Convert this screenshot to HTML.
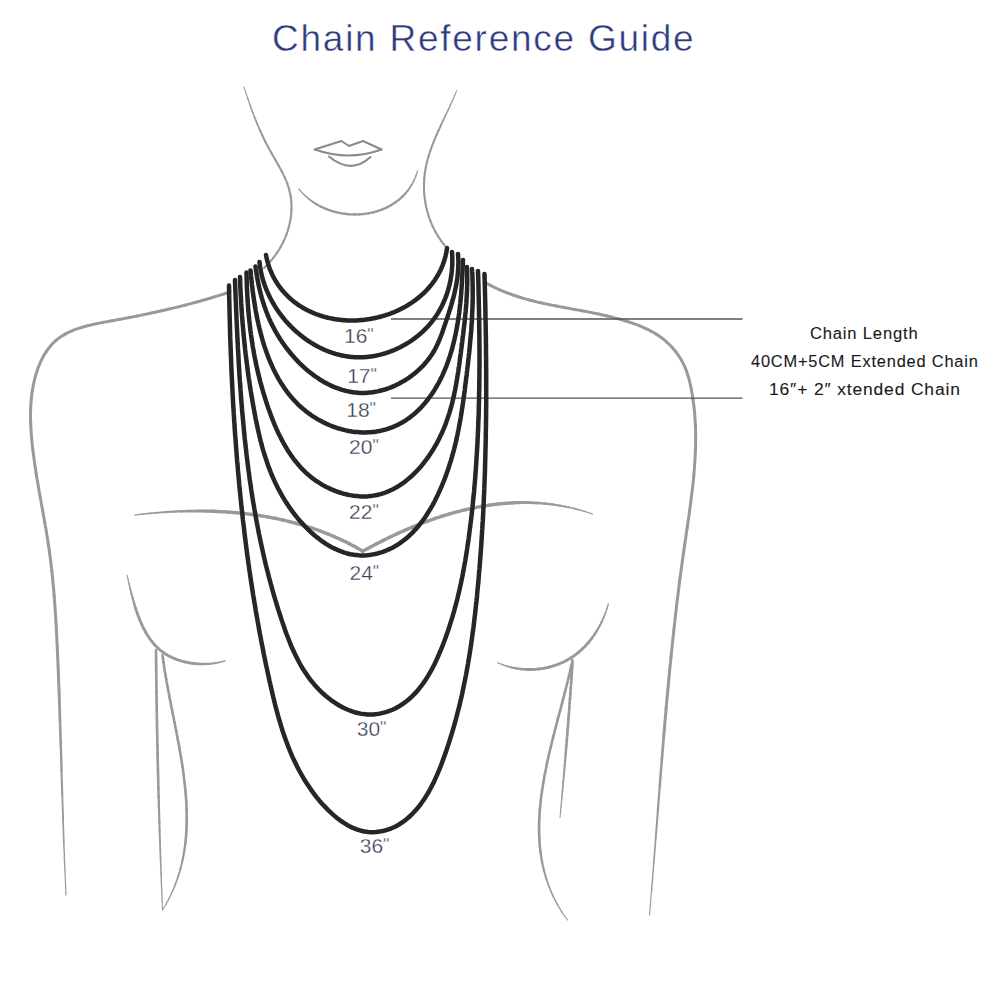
<!DOCTYPE html>
<html><head><meta charset="utf-8">
<style>
html,body{margin:0;padding:0;background:#fff;}
body{width:1000px;height:1000px;position:relative;overflow:hidden;font-family:"Liberation Sans",sans-serif;}
svg{position:absolute;left:0;top:0;}
.title{position:absolute;left:272px;top:19px;font-size:37px;color:#2e3a80;white-space:nowrap;-webkit-text-stroke:0.45px #fff;letter-spacing:1.75px;line-height:40px;}
.lab{position:absolute;font-size:21px;color:#3a3d52;-webkit-text-stroke:0.3px #fff;white-space:nowrap;line-height:20px;}
.q{font-size:18px;vertical-align:top;margin-left:0px;position:relative;top:-1px;-webkit-text-stroke:0.35px #fff;}
.info{position:absolute;font-size:16px;color:#1a1a1a;-webkit-text-stroke:0.1px #1a1a1a;white-space:nowrap;line-height:20px;transform-origin:0 0;letter-spacing:0.8px;}
</style></head><body>
<svg width="1000" height="1000" viewBox="0 0 1000 1000">
<g fill="none" stroke="#999" stroke-width="3" stroke-linecap="round" stroke-linejoin="round">
<path stroke-width="1.10" d="M244.0 87.0 L244.3 87.8 L244.5 88.6 L244.8 89.4 L245.0 90.2 L245.3 91.0 L245.6 91.8 L245.8 92.6"/>
<path stroke-width="1.21" d="M245.8 92.6 L246.1 93.4 L246.3 94.2 L246.6 95.0 L246.9 95.8 L247.1 96.6 L247.4 97.4 L247.7 98.2 L247.9 99.0"/>
<path stroke-width="1.33" d="M247.9 99.0 L248.2 99.8 L248.5 100.6 L248.7 101.3 L249.0 102.1 L249.3 102.9 L249.5 103.7 L249.8 104.5 L250.1 105.3"/>
<path stroke-width="1.45" d="M250.1 105.3 L250.4 106.0 L250.7 106.8 L250.9 107.6 L251.2 108.4 L251.5 109.1 L251.8 109.9 L252.1 110.7 L252.3 111.5"/>
<path stroke-width="1.56" d="M252.3 111.5 L252.6 112.2 L252.9 113.0 L253.2 113.8 L253.5 114.5 L253.8 115.3 L254.1 116.1 L254.4 116.8 L254.7 117.6"/>
<path stroke-width="1.68" d="M254.7 117.6 L255.0 118.4 L255.3 119.1 L255.6 119.9 L255.9 120.7 L256.2 121.4 L256.5 122.2 L256.8 122.9 L257.1 123.7"/>
<path stroke-width="1.80" d="M257.1 123.7 L257.5 124.5 L257.8 125.2 L258.1 126.0 L258.4 126.7 L258.7 127.5 L259.1 128.2 L259.4 129.0 L259.7 129.7"/>
<path stroke-width="1.91" d="M259.7 129.7 L260.1 130.5 L260.4 131.2 L260.7 132.0 L261.1 132.7 L261.4 133.5 L261.8 134.2 L262.1 135.0 L262.5 135.7"/>
<path stroke-width="2.03" d="M262.5 135.7 L262.8 136.5 L263.2 137.2 L263.5 138.0 L263.9 138.7 L264.3 139.5 L264.6 140.2 L265.0 141.0 L265.4 141.7"/>
<path stroke-width="2.10" d="M265.4 141.7 L265.7 142.4 L266.1 143.2 L266.5 143.9 L266.9 144.7 L267.3 145.4 L267.7 146.1 L268.0 146.9 L268.4 147.6"/>
<path stroke-width="2.10" d="M268.4 147.6 L268.8 148.4 L269.2 149.1 L269.7 149.8 L270.1 150.6 L270.5 151.3 L270.9 152.1 L271.3 152.8 L271.7 153.5"/>
<path stroke-width="2.10" d="M271.7 153.5 L272.1 154.3 L272.6 155.0 L273.0 155.8 L273.4 156.5 L273.8 157.2 L274.3 158.0 L274.7 158.7 L275.1 159.5"/>
<path stroke-width="2.10" d="M275.1 159.5 L275.5 160.2 L276.0 160.9 L276.4 161.7 L276.8 162.4 L277.2 163.2 L277.7 163.9 L278.1 164.6 L278.5 165.4"/>
<path stroke-width="2.10" d="M278.5 165.4 L278.9 166.1 L279.3 166.9 L279.7 167.6 L280.1 168.4 L280.6 169.1 L281.0 169.9 L281.4 170.6 L281.7 171.3"/>
<path stroke-width="2.10" d="M281.7 171.3 L282.1 172.1 L282.5 172.9 L282.9 173.6 L283.3 174.4 L283.6 175.1 L284.0 175.9 L284.4 176.6 L284.7 177.4"/>
<path stroke-width="2.10" d="M284.7 177.4 L285.0 178.2 L285.4 178.9 L285.7 179.7 L286.0 180.4 L286.4 181.2 L286.7 182.0 L287.0 182.7 L287.3 183.5"/>
<path stroke-width="2.10" d="M287.3 183.5 L287.5 184.3 L287.8 185.1 L288.1 185.9 L288.3 186.6 L288.6 187.4 L288.8 188.2 L289.0 189.0 L289.2 189.8"/>
<path stroke-width="2.10" d="M289.2 189.8 L289.5 190.6 L289.6 191.4 L289.8 192.1 L290.0 192.9 L290.2 193.7 L290.3 194.5 L290.5 195.3 L290.6 196.1"/>
<path stroke-width="2.10" d="M290.6 196.1 L290.7 196.9 L290.8 197.8 L291.0 198.6 L291.0 199.4 L291.1 200.2 L291.2 201.0 L291.3 201.8 L291.3 202.6"/>
<path stroke-width="2.10" d="M291.3 202.6 L291.4 203.4 L291.4 204.2 L291.4 205.0 L291.5 205.9 L291.5 206.7 L291.5 207.5 L291.5 208.3 L291.5 209.1"/>
<path stroke-width="2.10" d="M291.5 209.1 L291.4 209.9 L291.4 210.7 L291.3 211.6 L291.3 212.4 L291.2 213.2 L291.2 214.0 L291.1 214.8 L291.0 215.6"/>
<path stroke-width="2.10" d="M291.0 215.6 L290.9 216.4 L290.8 217.2 L290.7 218.1 L290.5 218.9 L290.4 219.7 L290.3 220.5 L290.1 221.3 L290.0 222.1"/>
<path stroke-width="2.10" d="M290.0 222.1 L289.8 222.9 L289.6 223.7 L289.4 224.5 L289.2 225.3 L289.0 226.1 L288.8 226.9 L288.6 227.7 L288.4 228.5"/>
<path stroke-width="2.10" d="M288.4 228.5 L288.2 229.3 L287.9 230.1 L287.7 230.9 L287.4 231.7 L287.1 232.5 L286.9 233.3 L286.6 234.0 L286.3 234.8"/>
<path stroke-width="2.10" d="M286.3 234.8 L286.0 235.6 L285.7 236.4 L285.4 237.1 L285.1 237.9 L284.7 238.7 L284.4 239.4 L284.1 240.2 L283.7 241.0"/>
<path stroke-width="2.10" d="M283.7 241.0 L283.3 241.7 L283.0 242.5 L282.6 243.2 L282.2 244.0 L281.8 244.7 L281.4 245.4 L281.0 246.2 L280.6 246.9"/>
<path stroke-width="2.10" d="M280.6 246.9 L280.2 247.6 L279.8 248.4 L279.4 249.1 L278.9 249.8 L278.5 250.5 L278.0 251.2 L277.6 251.9 L277.1 252.6"/>
<path stroke-width="2.10" d="M277.1 252.6 L276.6 253.3 L276.1 254.0 L275.7 254.7 L275.2 255.4 L274.7 256.1 L274.2 256.7 L273.6 257.4 L273.1 258.1"/>
<path stroke-width="2.10" d="M273.1 258.1 L272.6 258.7 L272.1 259.4 L271.5 260.0 L271.0 260.7 L270.4 261.3 L269.9 262.0 L269.3 262.6 L268.8 263.2"/>
<path stroke-width="2.10" d="M268.8 263.2 L268.2 263.8 L267.6 264.4 L267.0 265.0 L266.4 265.6 L265.8 266.2 L265.2 266.8 L264.6 267.4 L264.0 268.0"/>
<path stroke-width="1.10" d="M456.5 90.8 L456.3 91.4 L456.0 92.1 L455.8 92.7 L455.5 93.3 L455.3 93.9 L455.0 94.5 L454.7 95.2"/>
<path stroke-width="1.21" d="M454.7 95.2 L454.5 95.8 L454.2 96.4 L454.0 97.0 L453.7 97.7 L453.4 98.3 L453.2 98.9 L452.9 99.5 L452.6 100.2"/>
<path stroke-width="1.33" d="M452.6 100.2 L452.3 100.8 L452.0 101.4 L451.8 102.0 L451.5 102.7 L451.2 103.3 L450.9 103.9 L450.6 104.5 L450.3 105.2"/>
<path stroke-width="1.45" d="M450.3 105.2 L450.1 105.8 L449.8 106.4 L449.5 107.1 L449.2 107.7 L448.9 108.3 L448.6 108.9 L448.3 109.6 L448.0 110.2"/>
<path stroke-width="1.56" d="M448.0 110.2 L447.7 110.8 L447.4 111.5 L447.1 112.1 L446.8 112.7 L446.5 113.3 L446.2 114.0 L445.9 114.6 L445.6 115.2"/>
<path stroke-width="1.68" d="M445.6 115.2 L445.3 115.9 L445.0 116.5 L444.7 117.1 L444.4 117.8 L444.1 118.4 L443.8 119.0 L443.5 119.7 L443.2 120.3"/>
<path stroke-width="1.80" d="M443.2 120.3 L442.9 120.9 L442.6 121.6 L442.3 122.2 L442.0 122.8 L441.7 123.5 L441.4 124.1 L441.1 124.7 L440.8 125.4"/>
<path stroke-width="1.91" d="M440.8 125.4 L440.6 126.0 L440.3 126.7 L440.0 127.3 L439.7 127.9 L439.4 128.6 L439.1 129.2 L438.8 129.9 L438.5 130.5"/>
<path stroke-width="2.03" d="M438.5 130.5 L438.2 131.1 L437.9 131.8 L437.6 132.4 L437.4 133.1 L437.1 133.7 L436.8 134.3 L436.5 135.0 L436.2 135.6"/>
<path stroke-width="2.10" d="M436.2 135.6 L436.0 136.3 L435.7 136.9 L435.4 137.6 L435.1 138.2 L434.9 138.9 L434.6 139.5 L434.3 140.2 L434.1 140.8"/>
<path stroke-width="2.10" d="M434.1 140.8 L433.8 141.5 L433.5 142.1 L433.3 142.8 L433.0 143.4 L432.8 144.1 L432.5 144.7 L432.3 145.4 L432.0 146.0"/>
<path stroke-width="2.10" d="M432.0 146.0 L431.8 146.7 L431.5 147.3 L431.3 148.0 L431.1 148.6 L430.8 149.3 L430.6 149.9 L430.4 150.6 L430.2 151.3"/>
<path stroke-width="2.10" d="M430.2 151.3 L429.9 151.9 L429.7 152.6 L429.5 153.2 L429.3 153.9 L429.1 154.5 L428.9 155.2 L428.7 155.9 L428.5 156.5"/>
<path stroke-width="2.10" d="M428.5 156.5 L428.3 157.2 L428.1 157.9 L427.9 158.5 L427.7 159.2 L427.5 159.9 L427.4 160.5 L427.2 161.2 L427.0 161.9"/>
<path stroke-width="2.10" d="M427.0 161.9 L426.9 162.5 L426.7 163.2 L426.5 163.9 L426.4 164.5 L426.2 165.2 L426.1 165.9 L426.0 166.6 L425.8 167.2"/>
<path stroke-width="2.10" d="M425.8 167.2 L425.7 167.9 L425.6 168.6 L425.5 169.3 L425.3 169.9 L425.2 170.6 L425.1 171.3 L425.0 172.0 L424.9 172.6"/>
<path stroke-width="2.10" d="M424.9 172.6 L424.8 173.3 L424.7 174.0 L424.7 174.7 L424.6 175.4 L424.5 176.1 L424.4 176.7 L424.4 177.4 L424.3 178.1"/>
<path stroke-width="2.10" d="M424.3 178.1 L424.3 178.8 L424.2 179.5 L424.2 180.2 L424.1 180.8 L424.1 181.5 L424.1 182.2 L424.0 182.9 L424.0 183.6"/>
<path stroke-width="2.10" d="M424.0 183.6 L424.0 184.3 L424.0 185.0 L424.0 185.6 L424.0 186.3 L424.0 187.0 L424.0 187.7 L424.0 188.4 L424.0 189.1"/>
<path stroke-width="2.10" d="M424.0 189.1 L424.0 189.8 L424.1 190.5 L424.1 191.1 L424.1 191.8 L424.2 192.5 L424.2 193.2 L424.3 193.9 L424.3 194.6"/>
<path stroke-width="2.10" d="M424.3 194.6 L424.4 195.3 L424.5 195.9 L424.5 196.6 L424.6 197.3 L424.7 198.0 L424.8 198.7 L424.9 199.4 L425.0 200.0"/>
<path stroke-width="2.10" d="M425.0 200.0 L425.1 200.7 L425.2 201.4 L425.3 202.1 L425.4 202.8 L425.5 203.4 L425.6 204.1 L425.8 204.8 L425.9 205.5"/>
<path stroke-width="2.10" d="M425.9 205.5 L426.0 206.1 L426.2 206.8 L426.3 207.5 L426.5 208.2 L426.6 208.8 L426.8 209.5 L427.0 210.2 L427.1 210.8"/>
<path stroke-width="2.10" d="M427.1 210.8 L427.3 211.5 L427.5 212.2 L427.7 212.8 L427.9 213.5 L428.1 214.2 L428.3 214.8 L428.5 215.5 L428.7 216.1"/>
<path stroke-width="2.10" d="M428.7 216.1 L428.9 216.8 L429.1 217.5 L429.4 218.1 L429.6 218.8 L429.8 219.4 L430.1 220.1 L430.3 220.7 L430.6 221.4"/>
<path stroke-width="2.10" d="M430.6 221.4 L430.8 222.0 L431.1 222.7 L431.4 223.3 L431.6 223.9 L431.9 224.6 L432.2 225.2 L432.5 225.8 L432.8 226.5"/>
<path stroke-width="2.10" d="M432.8 226.5 L433.1 227.1 L433.4 227.7 L433.7 228.4 L434.0 229.0 L434.3 229.6 L434.6 230.2 L435.0 230.9 L435.3 231.5"/>
<path stroke-width="2.10" d="M435.3 231.5 L435.6 232.1 L436.0 232.7 L436.3 233.3 L436.7 233.9 L437.0 234.5 L437.4 235.1 L437.8 235.7 L438.1 236.3"/>
<path stroke-width="2.10" d="M438.1 236.3 L438.5 236.9 L438.9 237.5 L439.3 238.1 L439.7 238.7 L440.1 239.3 L440.5 239.9 L440.9 240.5 L441.3 241.1"/>
<path stroke-width="2.10" d="M441.3 241.1 L441.7 241.6 L442.2 242.2 L442.6 242.8 L443.0 243.4 L443.5 243.9 L443.9 244.5 L444.4 245.0 L444.8 245.6"/>
<path stroke-width="1.23" d="M299.0 189.0 L299.4 189.5 L299.8 190.0 L300.2 190.4 L300.6 190.9 L301.0 191.4 L301.4 191.8 L301.8 192.3"/>
<path stroke-width="1.41" d="M301.8 192.3 L302.2 192.7 L302.6 193.2 L303.0 193.6 L303.4 194.1 L303.9 194.5 L304.3 194.9 L304.7 195.3 L305.2 195.8"/>
<path stroke-width="1.61" d="M305.2 195.8 L305.6 196.2 L306.1 196.6 L306.5 197.0 L307.0 197.4 L307.4 197.8 L307.9 198.2 L308.4 198.6 L308.8 198.9"/>
<path stroke-width="1.80" d="M308.8 198.9 L309.3 199.3 L309.8 199.7 L310.3 200.1 L310.8 200.4 L311.2 200.8 L311.7 201.1 L312.2 201.5 L312.7 201.8"/>
<path stroke-width="1.99" d="M312.7 201.8 L313.2 202.2 L313.7 202.5 L314.2 202.8 L314.7 203.2 L315.3 203.5 L315.8 203.8 L316.3 204.1 L316.8 204.4"/>
<path stroke-width="2.18" d="M316.8 204.4 L317.3 204.7 L317.9 205.0 L318.4 205.3 L318.9 205.6 L319.5 205.9 L320.0 206.2 L320.5 206.4 L321.1 206.7"/>
<path stroke-width="2.30" d="M321.1 206.7 L321.6 207.0 L322.2 207.2 L322.7 207.5 L323.3 207.8 L323.8 208.0 L324.4 208.2 L325.0 208.5 L325.5 208.7"/>
<path stroke-width="2.30" d="M325.5 208.7 L326.1 208.9 L326.6 209.2 L327.2 209.4 L327.8 209.6 L328.4 209.8 L328.9 210.0 L329.5 210.2 L330.1 210.4"/>
<path stroke-width="2.30" d="M330.1 210.4 L330.7 210.6 L331.2 210.8 L331.8 211.0 L332.4 211.2 L333.0 211.3 L333.6 211.5 L334.2 211.7 L334.7 211.8"/>
<path stroke-width="2.30" d="M334.7 211.8 L335.3 212.0 L335.9 212.1 L336.5 212.3 L337.1 212.4 L337.7 212.6 L338.3 212.7 L338.9 212.8 L339.5 212.9"/>
<path stroke-width="2.30" d="M339.5 212.9 L340.1 213.1 L340.7 213.2 L341.3 213.3 L341.9 213.4 L342.5 213.5 L343.1 213.6 L343.7 213.7 L344.3 213.7"/>
<path stroke-width="2.30" d="M344.3 213.7 L344.9 213.8 L345.5 213.9 L346.1 214.0 L346.8 214.0 L347.4 214.1 L348.0 214.2 L348.6 214.2 L349.2 214.3"/>
<path stroke-width="2.30" d="M349.2 214.3 L349.8 214.3 L350.4 214.3 L351.0 214.4 L351.6 214.4 L352.2 214.4 L352.8 214.4 L353.5 214.5 L354.1 214.5"/>
<path stroke-width="2.30" d="M354.1 214.5 L354.7 214.5 L355.3 214.5 L355.9 214.5 L356.5 214.5 L357.1 214.4 L357.7 214.4 L358.3 214.4 L358.9 214.4"/>
<path stroke-width="2.30" d="M358.9 214.4 L359.6 214.3 L360.2 214.3 L360.8 214.3 L361.4 214.2 L362.0 214.2 L362.6 214.1 L363.2 214.0 L363.8 214.0"/>
<path stroke-width="2.30" d="M363.8 214.0 L364.4 213.9 L365.0 213.8 L365.6 213.7 L366.2 213.7 L366.8 213.6 L367.4 213.5 L368.0 213.4 L368.6 213.3"/>
<path stroke-width="2.30" d="M368.6 213.3 L369.2 213.2 L369.8 213.0 L370.4 212.9 L371.0 212.8 L371.6 212.7 L372.1 212.5 L372.7 212.4 L373.3 212.3"/>
<path stroke-width="2.30" d="M373.3 212.3 L373.9 212.1 L374.5 212.0 L375.1 211.8 L375.6 211.6 L376.2 211.5 L376.8 211.3 L377.4 211.1 L377.9 210.9"/>
<path stroke-width="2.30" d="M377.9 210.9 L378.5 210.8 L379.1 210.6 L379.6 210.4 L380.2 210.2 L380.8 210.0 L381.3 209.8 L381.9 209.5 L382.5 209.3"/>
<path stroke-width="2.30" d="M382.5 209.3 L383.0 209.1 L383.6 208.9 L384.1 208.6 L384.7 208.4 L385.2 208.2 L385.7 207.9 L386.3 207.7 L386.8 207.4"/>
<path stroke-width="2.30" d="M386.8 207.4 L387.3 207.1 L387.9 206.9 L388.4 206.6 L388.9 206.3 L389.5 206.0 L390.0 205.7 L390.5 205.5 L391.0 205.2"/>
<path stroke-width="2.30" d="M391.0 205.2 L391.5 204.9 L392.0 204.6 L392.5 204.2 L393.0 203.9 L393.5 203.6 L394.0 203.3 L394.5 202.9 L395.0 202.6"/>
<path stroke-width="2.30" d="M395.0 202.6 L395.5 202.3 L396.0 201.9 L396.5 201.6 L396.9 201.2 L397.4 200.9 L397.9 200.5 L398.4 200.1 L398.8 199.8"/>
<path stroke-width="2.30" d="M398.8 199.8 L399.3 199.4 L399.7 199.0 L400.2 198.6 L400.6 198.2 L401.1 197.8 L401.5 197.4 L401.9 197.0 L402.4 196.6"/>
<path stroke-width="2.21" d="M402.4 196.6 L402.8 196.2 L403.2 195.7 L403.6 195.3 L404.1 194.9 L404.5 194.4 L404.9 194.0 L405.3 193.6 L405.7 193.1"/>
<path stroke-width="2.02" d="M405.7 193.1 L406.1 192.7 L406.5 192.2 L406.8 191.7 L407.2 191.2 L407.6 190.8 L408.0 190.3 L408.3 189.8 L408.7 189.3"/>
<path stroke-width="1.82" d="M408.7 189.3 L409.1 188.8 L409.4 188.3 L409.8 187.8 L410.1 187.3 L410.4 186.8 L410.8 186.3 L411.1 185.7 L411.4 185.2"/>
<path stroke-width="1.63" d="M411.4 185.2 L411.7 184.7 L412.0 184.1 L412.3 183.6 L412.6 183.0 L412.9 182.5 L413.2 181.9 L413.5 181.4 L413.8 180.8"/>
<path stroke-width="1.44" d="M413.8 180.8 L414.1 180.2 L414.3 179.6 L414.6 179.0 L414.9 178.5 L415.1 177.9 L415.4 177.3 L415.6 176.7 L415.8 176.0"/>
<path stroke-width="1.25" d="M415.8 176.0 L416.1 175.4 L416.3 174.8 L416.5 174.2 L416.7 173.6 L416.9 172.9 L417.1 172.3 L417.3 171.6 L417.5 171.0"/>
<path stroke-width="3.00" d="M230.0 292.0 L226.9 293.0 L223.9 294.0 L220.8 294.9 L217.8 295.9 L214.7 296.8 L211.7 297.7 L208.7 298.6"/>
<path stroke-width="3.00" d="M208.7 298.6 L205.7 299.5 L202.7 300.3 L199.8 301.2 L196.8 302.0 L193.8 302.8 L190.8 303.6 L187.9 304.4 L184.9 305.2"/>
<path stroke-width="3.00" d="M184.9 305.2 L182.0 305.9 L179.0 306.7 L176.0 307.4 L173.1 308.1 L170.1 308.8 L167.1 309.5 L164.2 310.2 L161.2 310.9"/>
<path stroke-width="3.00" d="M161.2 310.9 L158.2 311.5 L155.2 312.2 L152.2 312.8 L149.2 313.5 L146.2 314.1 L143.2 314.7 L140.2 315.4 L137.1 316.0"/>
<path stroke-width="3.00" d="M137.1 316.0 L134.1 316.6 L131.0 317.2 L127.9 317.8 L124.8 318.4 L121.7 319.0 L118.6 319.5 L115.4 320.1 L112.3 320.7"/>
<path stroke-width="3.00" d="M112.3 320.7 L109.1 321.3 L105.9 321.9 L102.7 322.5 L99.5 323.1 L96.3 323.8 L93.1 324.4 L90.0 325.2 L86.9 325.9"/>
<path stroke-width="3.00" d="M86.9 325.9 L83.8 326.8 L80.7 327.7 L77.8 328.7 L74.8 329.7 L72.0 330.9 L69.2 332.1 L66.5 333.4 L63.8 334.9"/>
<path stroke-width="3.00" d="M63.8 334.9 L61.3 336.5 L58.9 338.1 L56.5 340.0 L54.3 341.9 L52.2 344.0 L50.3 346.2 L48.4 348.6 L46.6 351.1"/>
<path stroke-width="3.00" d="M46.6 351.1 L45.0 353.6 L43.4 356.3 L42.0 359.0 L40.6 361.8 L39.4 364.7 L38.2 367.6 L37.2 370.6 L36.2 373.6"/>
<path stroke-width="3.00" d="M36.2 373.6 L35.3 376.7 L34.5 379.8 L33.8 382.9 L33.1 386.0 L32.6 389.1 L32.1 392.2 L31.7 395.3 L31.3 398.4"/>
<path stroke-width="3.00" d="M31.3 398.4 L31.1 401.5 L30.8 404.7 L30.7 407.8 L30.6 410.9 L30.5 414.1 L30.5 417.2 L30.6 420.3 L30.7 423.5"/>
<path stroke-width="3.00" d="M30.7 423.5 L30.8 426.6 L31.0 429.7 L31.2 432.9 L31.4 436.0 L31.7 439.1 L32.0 442.2 L32.3 445.4 L32.7 448.5"/>
<path stroke-width="3.00" d="M32.7 448.5 L33.1 451.6 L33.5 454.7 L33.9 457.8 L34.3 460.9 L34.7 463.9 L35.2 467.0 L35.7 470.1 L36.1 473.2"/>
<path stroke-width="3.00" d="M36.1 473.2 L36.6 476.3 L37.1 479.3 L37.7 482.4 L38.2 485.5 L38.7 488.5 L39.2 491.6 L39.8 494.6 L40.3 497.7"/>
<path stroke-width="3.00" d="M40.3 497.7 L40.9 500.8 L41.4 503.8 L42.0 506.9 L42.5 509.9 L43.1 513.0 L43.6 516.0 L44.2 519.1 L44.7 522.1"/>
<path stroke-width="3.00" d="M44.7 522.1 L45.2 525.2 L45.8 528.3 L46.3 531.3 L46.8 534.4 L47.3 537.4 L47.8 540.5 L48.2 543.6 L48.7 546.6"/>
<path stroke-width="3.00" d="M48.7 546.6 L49.2 549.7 L49.6 552.8 L50.0 555.9 L50.4 558.9 L50.8 562.0 L51.2 565.1 L51.5 568.2 L51.9 571.3"/>
<path stroke-width="3.00" d="M51.9 571.3 L52.2 574.4 L52.5 577.5 L52.8 580.6 L53.1 583.7 L53.4 586.8 L53.7 589.9 L53.9 593.0 L54.2 596.1"/>
<path stroke-width="3.00" d="M54.2 596.1 L54.4 599.2 L54.7 602.3 L54.9 605.4 L55.1 608.6 L55.3 611.7 L55.5 614.8 L55.7 617.9 L55.9 621.0"/>
<path stroke-width="3.00" d="M55.9 621.0 L56.1 624.1 L56.2 627.2 L56.4 630.4 L56.6 633.5 L56.7 636.6 L56.9 639.7 L57.0 642.8 L57.2 646.0"/>
<path stroke-width="3.00" d="M57.2 646.0 L57.3 649.1 L57.5 652.2 L57.6 655.3 L57.7 658.4 L57.9 661.5 L58.0 664.7 L58.1 667.8 L58.3 670.9"/>
<path stroke-width="3.00" d="M58.3 670.9 L58.4 674.0 L58.5 677.1 L58.6 680.2 L58.7 683.4 L58.9 686.5 L59.0 689.6 L59.1 692.7 L59.2 695.8"/>
<path stroke-width="2.80" d="M59.2 695.8 L59.3 698.9 L59.4 702.0 L59.5 705.2 L59.6 708.3 L59.7 711.4 L59.8 714.5 L59.9 717.6 L60.0 720.7"/>
<path stroke-width="2.57" d="M60.0 720.7 L60.1 723.8 L60.2 726.9 L60.3 730.0 L60.4 733.2 L60.5 736.3 L60.6 739.4 L60.7 742.5 L60.8 745.6"/>
<path stroke-width="2.33" d="M60.8 745.6 L60.9 748.7 L61.0 751.8 L61.1 754.9 L61.2 758.0 L61.3 761.2 L61.4 764.3 L61.5 767.4 L61.5 770.5"/>
<path stroke-width="2.10" d="M61.5 770.5 L61.6 773.6 L61.7 776.7 L61.8 779.8 L61.9 782.9 L62.0 786.0 L62.1 789.1 L62.2 792.3 L62.3 795.4"/>
<path stroke-width="1.87" d="M62.3 795.4 L62.4 798.5 L62.5 801.6 L62.6 804.7 L62.7 807.8 L62.8 810.9 L62.9 814.0 L63.0 817.1 L63.1 820.3"/>
<path stroke-width="1.63" d="M63.1 820.3 L63.2 823.4 L63.3 826.5 L63.4 829.6 L63.5 832.7 L63.6 835.8 L63.7 838.9 L63.8 842.0 L63.9 845.2"/>
<path stroke-width="1.40" d="M63.9 845.2 L64.0 848.3 L64.2 851.4 L64.3 854.5 L64.4 857.6 L64.5 860.7 L64.6 863.8 L64.8 867.0 L64.9 870.1"/>
<path stroke-width="1.17" d="M64.9 870.1 L65.0 873.2 L65.2 876.3 L65.3 879.4 L65.4 882.5 L65.6 885.6 L65.7 888.8 L65.9 891.9 L66.0 895.0"/>
<path stroke-width="3.00" d="M486.0 283.0 L489.0 284.6 L491.9 286.1 L494.9 287.6 L497.9 289.0 L500.9 290.3 L504.0 291.6 L507.0 292.8"/>
<path stroke-width="3.00" d="M507.0 292.8 L510.0 293.9 L513.0 295.0 L516.1 296.0 L519.1 297.0 L522.2 298.0 L525.3 298.9 L528.4 299.7 L531.4 300.5"/>
<path stroke-width="3.00" d="M531.4 300.5 L534.5 301.3 L537.6 302.1 L540.7 302.8 L543.8 303.5 L547.0 304.1 L550.1 304.8 L553.2 305.4 L556.4 306.0"/>
<path stroke-width="3.00" d="M556.4 306.0 L559.5 306.6 L562.6 307.2 L565.8 307.8 L569.0 308.4 L572.1 309.0 L575.3 309.5 L578.5 310.1 L581.6 310.7"/>
<path stroke-width="3.00" d="M581.6 310.7 L584.8 311.3 L588.0 311.9 L591.2 312.5 L594.4 313.2 L597.6 313.8 L600.8 314.5 L604.0 315.2 L607.2 316.0"/>
<path stroke-width="3.00" d="M607.2 316.0 L610.4 316.7 L613.6 317.6 L616.9 318.4 L620.1 319.3 L623.3 320.2 L626.5 321.2 L629.7 322.2 L632.9 323.3"/>
<path stroke-width="3.00" d="M632.9 323.3 L636.0 324.4 L639.2 325.6 L642.2 326.9 L645.3 328.3 L648.2 329.7 L651.1 331.2 L654.0 332.8 L656.8 334.5"/>
<path stroke-width="3.00" d="M656.8 334.5 L659.5 336.3 L662.1 338.2 L664.6 340.2 L667.0 342.3 L669.4 344.5 L671.6 346.8 L673.7 349.2 L675.7 351.6"/>
<path stroke-width="3.00" d="M675.7 351.6 L677.6 354.2 L679.4 356.8 L681.1 359.5 L682.6 362.3 L684.0 365.1 L685.3 368.1 L686.5 371.1 L687.5 374.1"/>
<path stroke-width="3.00" d="M687.5 374.1 L688.5 377.2 L689.3 380.3 L690.1 383.5 L690.8 386.7 L691.4 389.9 L692.0 393.1 L692.5 396.3 L693.0 399.5"/>
<path stroke-width="3.00" d="M693.0 399.5 L693.5 402.7 L693.9 405.9 L694.2 409.2 L694.5 412.4 L694.8 415.6 L695.0 418.8 L695.2 422.0 L695.4 425.3"/>
<path stroke-width="3.00" d="M695.4 425.3 L695.5 428.5 L695.6 431.7 L695.6 434.9 L695.6 438.1 L695.6 441.3 L695.6 444.6 L695.5 447.8 L695.4 451.0"/>
<path stroke-width="3.00" d="M695.4 451.0 L695.3 454.2 L695.1 457.4 L694.9 460.7 L694.7 463.9 L694.5 467.1 L694.2 470.3 L694.0 473.5 L693.7 476.8"/>
<path stroke-width="3.00" d="M693.7 476.8 L693.4 480.0 L693.0 483.2 L692.7 486.4 L692.3 489.7 L691.9 492.9 L691.5 496.1 L691.1 499.3 L690.7 502.5"/>
<path stroke-width="3.00" d="M690.7 502.5 L690.3 505.8 L689.8 509.0 L689.4 512.2 L689.0 515.4 L688.5 518.6 L688.0 521.9 L687.6 525.1 L687.1 528.3"/>
<path stroke-width="3.00" d="M687.1 528.3 L686.6 531.5 L686.1 534.7 L685.7 538.0 L685.2 541.2 L684.7 544.4 L684.3 547.6 L683.8 550.8 L683.3 554.1"/>
<path stroke-width="3.00" d="M683.3 554.1 L682.9 557.3 L682.4 560.5 L682.0 563.7 L681.5 566.9 L681.1 570.2 L680.7 573.4 L680.3 576.6 L679.8 579.8"/>
<path stroke-width="3.00" d="M679.8 579.8 L679.4 583.0 L679.0 586.3 L678.6 589.5 L678.2 592.7 L677.8 595.9 L677.4 599.1 L677.0 602.3 L676.6 605.6"/>
<path stroke-width="3.00" d="M676.6 605.6 L676.3 608.8 L675.9 612.0 L675.5 615.2 L675.1 618.4 L674.8 621.7 L674.4 624.9 L674.1 628.1 L673.7 631.3"/>
<path stroke-width="3.00" d="M673.7 631.3 L673.4 634.5 L673.0 637.7 L672.7 641.0 L672.3 644.2 L672.0 647.4 L671.7 650.6 L671.3 653.8 L671.0 657.1"/>
<path stroke-width="3.00" d="M671.0 657.1 L670.7 660.3 L670.4 663.5 L670.0 666.7 L669.7 669.9 L669.4 673.1 L669.1 676.4 L668.8 679.6 L668.5 682.8"/>
<path stroke-width="3.00" d="M668.5 682.8 L668.2 686.0 L667.9 689.2 L667.6 692.5 L667.3 695.7 L667.0 698.9 L666.7 702.1 L666.4 705.3 L666.1 708.6"/>
<path stroke-width="3.00" d="M666.1 708.6 L665.9 711.8 L665.6 715.0 L665.3 718.2 L665.0 721.4 L664.7 724.6 L664.5 727.9 L664.2 731.1 L663.9 734.3"/>
<path stroke-width="2.75" d="M663.9 734.3 L663.7 737.5 L663.4 740.7 L663.1 744.0 L662.9 747.2 L662.6 750.4 L662.3 753.6 L662.1 756.9 L661.8 760.1"/>
<path stroke-width="2.49" d="M661.8 760.1 L661.6 763.3 L661.3 766.5 L661.0 769.7 L660.8 773.0 L660.5 776.2 L660.3 779.4 L660.0 782.6 L659.8 785.9"/>
<path stroke-width="2.22" d="M659.8 785.9 L659.5 789.1 L659.3 792.3 L659.0 795.5 L658.8 798.7 L658.5 802.0 L658.3 805.2 L658.0 808.4 L657.8 811.6"/>
<path stroke-width="1.96" d="M657.8 811.6 L657.5 814.9 L657.3 818.1 L657.0 821.3 L656.8 824.5 L656.5 827.8 L656.3 831.0 L656.0 834.2 L655.8 837.5"/>
<path stroke-width="1.70" d="M655.8 837.5 L655.5 840.7 L655.3 843.9 L655.0 847.1 L654.8 850.4 L654.5 853.6 L654.3 856.8 L654.0 860.1 L653.7 863.3"/>
<path stroke-width="1.44" d="M653.7 863.3 L653.5 866.5 L653.2 869.7 L653.0 873.0 L652.7 876.2 L652.5 879.4 L652.2 882.7 L651.9 885.9 L651.7 889.1"/>
<path stroke-width="1.18" d="M651.7 889.1 L651.4 892.4 L651.1 895.6 L650.9 898.8 L650.6 902.1 L650.3 905.3 L650.1 908.5 L649.8 911.8 L649.5 915.0"/>
<path stroke-width="1.28" d="M135.0 515.0 L136.0 514.9 L136.9 514.8 L137.9 514.6 L138.8 514.5 L139.8 514.4 L140.8 514.3 L141.7 514.2"/>
<path stroke-width="1.48" d="M141.7 514.2 L142.7 514.1 L143.7 514.0 L144.6 513.9 L145.6 513.8 L146.6 513.7 L147.5 513.6 L148.5 513.5 L149.5 513.4"/>
<path stroke-width="1.69" d="M149.5 513.4 L150.4 513.3 L151.4 513.2 L152.4 513.1 L153.4 513.0 L154.3 513.0 L155.3 512.9 L156.3 512.8 L157.2 512.7"/>
<path stroke-width="1.90" d="M157.2 512.7 L158.2 512.6 L159.2 512.6 L160.2 512.5 L161.1 512.4 L162.1 512.3 L163.1 512.3 L164.1 512.2 L165.1 512.1"/>
<path stroke-width="2.11" d="M165.1 512.1 L166.0 512.1 L167.0 512.0 L168.0 511.9 L169.0 511.9 L169.9 511.8 L170.9 511.8 L171.9 511.7 L172.9 511.7"/>
<path stroke-width="2.33" d="M172.9 511.7 L173.9 511.6 L174.9 511.6 L175.8 511.5 L176.8 511.5 L177.8 511.4 L178.8 511.4 L179.8 511.4 L180.8 511.3"/>
<path stroke-width="2.54" d="M180.8 511.3 L181.7 511.3 L182.7 511.3 L183.7 511.2 L184.7 511.2 L185.7 511.2 L186.7 511.2 L187.6 511.1 L188.6 511.1"/>
<path stroke-width="2.75" d="M188.6 511.1 L189.6 511.1 L190.6 511.1 L191.6 511.1 L192.6 511.1 L193.6 511.0 L194.6 511.0 L195.5 511.0 L196.5 511.0"/>
<path stroke-width="2.96" d="M196.5 511.0 L197.5 511.0 L198.5 511.0 L199.5 511.0 L200.5 511.0 L201.5 511.0 L202.5 511.1 L203.4 511.1 L204.4 511.1"/>
<path stroke-width="3.17" d="M204.4 511.1 L205.4 511.1 L206.4 511.1 L207.4 511.1 L208.4 511.2 L209.4 511.2 L210.4 511.2 L211.3 511.2 L212.3 511.3"/>
<path stroke-width="3.38" d="M212.3 511.3 L213.3 511.3 L214.3 511.3 L215.3 511.4 L216.3 511.4 L217.3 511.5 L218.3 511.5 L219.3 511.6 L220.2 511.6"/>
<path stroke-width="3.40" d="M220.2 511.6 L221.2 511.7 L222.2 511.7 L223.2 511.8 L224.2 511.8 L225.2 511.9 L226.2 512.0 L227.1 512.0 L228.1 512.1"/>
<path stroke-width="3.40" d="M228.1 512.1 L229.1 512.2 L230.1 512.2 L231.1 512.3 L232.1 512.4 L233.1 512.5 L234.0 512.6 L235.0 512.6 L236.0 512.7"/>
<path stroke-width="3.40" d="M236.0 512.7 L237.0 512.8 L238.0 512.9 L239.0 513.0 L239.9 513.1 L240.9 513.2 L241.9 513.3 L242.9 513.4 L243.9 513.5"/>
<path stroke-width="3.40" d="M243.9 513.5 L244.9 513.6 L245.8 513.7 L246.8 513.9 L247.8 514.0 L248.8 514.1 L249.8 514.2 L250.7 514.3 L251.7 514.5"/>
<path stroke-width="3.40" d="M251.7 514.5 L252.7 514.6 L253.7 514.7 L254.6 514.9 L255.6 515.0 L256.6 515.2 L257.6 515.3 L258.6 515.4 L259.5 515.6"/>
<path stroke-width="3.40" d="M259.5 515.6 L260.5 515.7 L261.5 515.9 L262.4 516.1 L263.4 516.2 L264.4 516.4 L265.4 516.5 L266.3 516.7 L267.3 516.9"/>
<path stroke-width="3.40" d="M267.3 516.9 L268.3 517.1 L269.2 517.2 L270.2 517.4 L271.2 517.6 L272.1 517.8 L273.1 518.0 L274.1 518.2 L275.0 518.3"/>
<path stroke-width="3.40" d="M275.0 518.3 L276.0 518.5 L277.0 518.7 L277.9 518.9 L278.9 519.1 L279.8 519.3 L280.8 519.6 L281.8 519.8 L282.7 520.0"/>
<path stroke-width="3.40" d="M282.7 520.0 L283.7 520.2 L284.6 520.4 L285.6 520.6 L286.6 520.9 L287.5 521.1 L288.5 521.3 L289.4 521.6 L290.4 521.8"/>
<path stroke-width="3.40" d="M290.4 521.8 L291.3 522.1 L292.3 522.3 L293.2 522.5 L294.2 522.8 L295.1 523.0 L296.1 523.3 L297.0 523.6 L298.0 523.8"/>
<path stroke-width="3.40" d="M298.0 523.8 L298.9 524.1 L299.8 524.4 L300.8 524.6 L301.7 524.9 L302.7 525.2 L303.6 525.5 L304.5 525.7 L305.5 526.0"/>
<path stroke-width="3.40" d="M305.5 526.0 L306.4 526.3 L307.3 526.6 L308.3 526.9 L309.2 527.2 L310.1 527.5 L311.1 527.8 L312.0 528.1 L312.9 528.4"/>
<path stroke-width="3.40" d="M312.9 528.4 L313.9 528.7 L314.8 529.1 L315.7 529.4 L316.6 529.7 L317.6 530.0 L318.5 530.4 L319.4 530.7 L320.3 531.0"/>
<path stroke-width="3.40" d="M320.3 531.0 L321.2 531.4 L322.1 531.7 L323.1 532.1 L324.0 532.4 L324.9 532.8 L325.8 533.1 L326.7 533.5 L327.6 533.8"/>
<path stroke-width="3.40" d="M327.6 533.8 L328.5 534.2 L329.4 534.6 L330.3 535.0 L331.2 535.3 L332.1 535.7 L333.0 536.1 L333.9 536.5 L334.8 536.9"/>
<path stroke-width="3.40" d="M334.8 536.9 L335.7 537.3 L336.6 537.7 L337.5 538.1 L338.4 538.5 L339.3 538.9 L340.2 539.3 L341.1 539.7 L342.0 540.1"/>
<path stroke-width="3.40" d="M342.0 540.1 L342.9 540.5 L343.7 541.0 L344.6 541.4 L345.5 541.8 L346.4 542.3 L347.3 542.7 L348.1 543.1 L349.0 543.6"/>
<path stroke-width="3.40" d="M349.0 543.6 L349.9 544.0 L350.7 544.5 L351.6 545.0 L352.5 545.4 L353.3 545.9 L354.2 546.3 L355.1 546.8 L355.9 547.3"/>
<path stroke-width="3.40" d="M355.9 547.3 L356.8 547.8 L357.7 548.3 L358.5 548.7 L359.4 549.2 L360.2 549.7 L361.1 550.2 L361.9 550.7 L362.8 551.2"/>
<path stroke-width="3.40" d="M362.8 551.3 L363.6 550.8 L364.5 550.3 L365.4 549.8 L366.2 549.3 L367.1 548.9 L368.0 548.4 L368.9 547.9"/>
<path stroke-width="3.40" d="M368.9 547.9 L369.7 547.4 L370.6 547.0 L371.5 546.5 L372.4 546.0 L373.3 545.6 L374.1 545.1 L375.0 544.6 L375.9 544.2"/>
<path stroke-width="3.40" d="M375.9 544.2 L376.8 543.7 L377.7 543.2 L378.6 542.8 L379.5 542.3 L380.4 541.9 L381.3 541.4 L382.2 541.0 L383.0 540.5"/>
<path stroke-width="3.40" d="M383.0 540.5 L383.9 540.1 L384.8 539.6 L385.7 539.2 L386.6 538.7 L387.5 538.3 L388.4 537.9 L389.3 537.4 L390.3 537.0"/>
<path stroke-width="3.40" d="M390.3 537.0 L391.2 536.5 L392.1 536.1 L393.0 535.7 L393.9 535.3 L394.8 534.8 L395.7 534.4 L396.6 534.0 L397.5 533.6"/>
<path stroke-width="3.40" d="M397.5 533.6 L398.4 533.1 L399.4 532.7 L400.3 532.3 L401.2 531.9 L402.1 531.5 L403.0 531.1 L403.9 530.7 L404.9 530.3"/>
<path stroke-width="3.40" d="M404.9 530.3 L405.8 529.9 L406.7 529.5 L407.6 529.1 L408.6 528.7 L409.5 528.3 L410.4 527.9 L411.3 527.5 L412.3 527.1"/>
<path stroke-width="3.40" d="M412.3 527.1 L413.2 526.7 L414.1 526.3 L415.1 526.0 L416.0 525.6 L416.9 525.2 L417.9 524.8 L418.8 524.5 L419.7 524.1"/>
<path stroke-width="3.40" d="M419.7 524.1 L420.7 523.7 L421.6 523.4 L422.6 523.0 L423.5 522.7 L424.4 522.3 L425.4 522.0 L426.3 521.6 L427.3 521.3"/>
<path stroke-width="3.40" d="M427.3 521.3 L428.2 520.9 L429.2 520.6 L430.1 520.2 L431.0 519.9 L432.0 519.6 L432.9 519.2 L433.9 518.9 L434.8 518.6"/>
<path stroke-width="3.40" d="M434.8 518.6 L435.8 518.2 L436.7 517.9 L437.7 517.6 L438.7 517.3 L439.6 517.0 L440.6 516.7 L441.5 516.4 L442.5 516.1"/>
<path stroke-width="3.40" d="M442.5 516.1 L443.4 515.8 L444.4 515.5 L445.3 515.2 L446.3 514.9 L447.3 514.6 L448.2 514.3 L449.2 514.0 L450.1 513.7"/>
<path stroke-width="3.40" d="M450.1 513.7 L451.1 513.5 L452.1 513.2 L453.0 512.9 L454.0 512.6 L455.0 512.4 L455.9 512.1 L456.9 511.9 L457.9 511.6"/>
<path stroke-width="3.40" d="M457.9 511.6 L458.8 511.4 L459.8 511.1 L460.8 510.9 L461.7 510.6 L462.7 510.4 L463.7 510.1 L464.6 509.9 L465.6 509.7"/>
<path stroke-width="3.40" d="M465.6 509.7 L466.6 509.4 L467.6 509.2 L468.5 509.0 L469.5 508.8 L470.5 508.6 L471.5 508.4 L472.4 508.2 L473.4 508.0"/>
<path stroke-width="3.40" d="M473.4 508.0 L474.4 507.8 L475.4 507.6 L476.3 507.4 L477.3 507.2 L478.3 507.0 L479.3 506.8 L480.3 506.6 L481.2 506.5"/>
<path stroke-width="3.40" d="M481.2 506.5 L482.2 506.3 L483.2 506.1 L484.2 506.0 L485.2 505.8 L486.2 505.6 L487.1 505.5 L488.1 505.3 L489.1 505.2"/>
<path stroke-width="3.40" d="M489.1 505.2 L490.1 505.1 L491.1 504.9 L492.1 504.8 L493.0 504.6 L494.0 504.5 L495.0 504.4 L496.0 504.3 L497.0 504.2"/>
<path stroke-width="3.40" d="M497.0 504.2 L498.0 504.1 L499.0 503.9 L499.9 503.8 L500.9 503.7 L501.9 503.7 L502.9 503.6 L503.9 503.5 L504.9 503.4"/>
<path stroke-width="3.40" d="M504.9 503.4 L505.9 503.3 L506.9 503.2 L507.9 503.2 L508.9 503.1 L509.8 503.0 L510.8 503.0 L511.8 502.9 L512.8 502.9"/>
<path stroke-width="3.20" d="M512.8 502.9 L513.8 502.8 L514.8 502.8 L515.8 502.7 L516.8 502.7 L517.8 502.7 L518.8 502.7 L519.8 502.6 L520.8 502.6"/>
<path stroke-width="2.99" d="M520.8 502.6 L521.8 502.6 L522.8 502.6 L523.8 502.6 L524.7 502.6 L525.7 502.6 L526.7 502.6 L527.7 502.6 L528.7 502.7"/>
<path stroke-width="2.78" d="M528.7 502.7 L529.7 502.7 L530.7 502.7 L531.7 502.7 L532.7 502.8 L533.7 502.8 L534.7 502.9 L535.7 502.9 L536.7 503.0"/>
<path stroke-width="2.56" d="M536.7 503.0 L537.7 503.0 L538.7 503.1 L539.7 503.2 L540.7 503.2 L541.7 503.3 L542.7 503.4 L543.7 503.5 L544.7 503.6"/>
<path stroke-width="2.35" d="M544.7 503.6 L545.7 503.7 L546.7 503.8 L547.7 503.9 L548.7 504.0 L549.7 504.1 L550.7 504.2 L551.7 504.4 L552.7 504.5"/>
<path stroke-width="2.14" d="M552.7 504.5 L553.7 504.6 L554.7 504.8 L555.7 504.9 L556.6 505.1 L557.6 505.2 L558.6 505.4 L559.6 505.6 L560.6 505.7"/>
<path stroke-width="1.93" d="M560.6 505.7 L561.6 505.9 L562.6 506.1 L563.6 506.3 L564.6 506.5 L565.6 506.7 L566.6 506.9 L567.6 507.1 L568.6 507.3"/>
<path stroke-width="1.72" d="M568.6 507.3 L569.6 507.5 L570.6 507.7 L571.6 508.0 L572.6 508.2 L573.6 508.4 L574.6 508.7 L575.6 508.9 L576.6 509.2"/>
<path stroke-width="1.51" d="M576.6 509.2 L577.6 509.4 L578.6 509.7 L579.6 510.0 L580.6 510.3 L581.6 510.5 L582.6 510.8 L583.6 511.1 L584.6 511.4"/>
<path stroke-width="1.30" d="M584.6 511.4 L585.5 511.7 L586.5 512.0 L587.5 512.3 L588.5 512.7 L589.5 513.0 L590.5 513.3 L591.5 513.7 L592.5 514.0"/>
<path stroke-width="1.09" d="M127.0 575.0 L127.1 575.6 L127.3 576.1 L127.4 576.7 L127.5 577.3 L127.7 577.8 L127.8 578.4 L127.9 579.0"/>
<path stroke-width="1.32" d="M127.9 579.0 L128.1 579.6 L128.2 580.2 L128.3 580.7 L128.5 581.3 L128.6 581.9 L128.8 582.5 L128.9 583.1 L129.0 583.7"/>
<path stroke-width="1.56" d="M129.0 583.7 L129.2 584.3 L129.3 584.9 L129.5 585.5 L129.6 586.1 L129.7 586.7 L129.9 587.3 L130.0 587.9 L130.2 588.5"/>
<path stroke-width="1.80" d="M130.2 588.5 L130.3 589.2 L130.5 589.8 L130.6 590.4 L130.8 591.0 L130.9 591.6 L131.1 592.2 L131.3 592.9 L131.4 593.5"/>
<path stroke-width="2.05" d="M131.4 593.5 L131.6 594.1 L131.7 594.7 L131.9 595.4 L132.1 596.0 L132.2 596.6 L132.4 597.2 L132.6 597.9 L132.7 598.5"/>
<path stroke-width="2.29" d="M132.7 598.5 L132.9 599.1 L133.1 599.8 L133.3 600.4 L133.4 601.0 L133.6 601.7 L133.8 602.3 L134.0 602.9 L134.2 603.5"/>
<path stroke-width="2.53" d="M134.2 603.5 L134.3 604.2 L134.5 604.8 L134.7 605.4 L134.9 606.1 L135.1 606.7 L135.3 607.3 L135.5 608.0 L135.7 608.6"/>
<path stroke-width="2.78" d="M135.7 608.6 L135.9 609.2 L136.1 609.8 L136.3 610.5 L136.5 611.1 L136.7 611.7 L137.0 612.3 L137.2 613.0 L137.4 613.6"/>
<path stroke-width="2.80" d="M137.4 613.6 L137.6 614.2 L137.8 614.8 L138.1 615.5 L138.3 616.1 L138.5 616.7 L138.8 617.3 L139.0 617.9 L139.2 618.5"/>
<path stroke-width="2.80" d="M139.2 618.5 L139.5 619.1 L139.7 619.7 L140.0 620.4 L140.2 621.0 L140.5 621.6 L140.7 622.2 L141.0 622.8 L141.3 623.4"/>
<path stroke-width="2.80" d="M141.3 623.4 L141.5 624.0 L141.8 624.5 L142.1 625.1 L142.4 625.7 L142.6 626.3 L142.9 626.9 L143.2 627.5 L143.5 628.1"/>
<path stroke-width="2.80" d="M143.5 628.1 L143.8 628.6 L144.1 629.2 L144.4 629.8 L144.7 630.3 L145.0 630.9 L145.3 631.5 L145.6 632.0 L145.9 632.6"/>
<path stroke-width="2.80" d="M145.9 632.6 L146.2 633.1 L146.6 633.7 L146.9 634.2 L147.2 634.8 L147.6 635.3 L147.9 635.8 L148.2 636.4 L148.6 636.9"/>
<path stroke-width="2.80" d="M148.6 636.9 L148.9 637.4 L149.3 637.9 L149.6 638.4 L150.0 639.0 L150.4 639.5 L150.7 640.0 L151.1 640.5 L151.5 641.0"/>
<path stroke-width="2.80" d="M151.5 641.0 L151.9 641.5 L152.3 641.9 L152.7 642.4 L153.0 642.9 L153.4 643.4 L153.8 643.8 L154.3 644.3 L154.7 644.8"/>
<path stroke-width="2.80" d="M154.7 644.8 L155.1 645.2 L155.5 645.7 L155.9 646.1 L156.4 646.6 L156.8 647.0 L157.2 647.4 L157.7 647.8 L158.1 648.3"/>
<path stroke-width="2.80" d="M158.1 648.3 L158.6 648.7 L159.0 649.1 L159.5 649.5 L160.0 649.9 L160.4 650.3 L160.9 650.7 L161.4 651.0 L161.9 651.4"/>
<path stroke-width="2.80" d="M161.9 651.4 L162.4 651.8 L162.9 652.1 L163.4 652.5 L163.9 652.8 L164.4 653.2 L164.9 653.5 L165.4 653.9 L165.9 654.2"/>
<path stroke-width="2.80" d="M165.9 654.2 L166.4 654.5 L167.0 654.8 L167.5 655.2 L168.0 655.5 L168.6 655.8 L169.1 656.1 L169.7 656.3 L170.2 656.6"/>
<path stroke-width="2.80" d="M170.2 656.6 L170.8 656.9 L171.3 657.2 L171.9 657.5 L172.5 657.7 L173.0 658.0 L173.6 658.2 L174.2 658.5 L174.8 658.7"/>
<path stroke-width="2.80" d="M174.8 658.7 L175.3 658.9 L175.9 659.2 L176.5 659.4 L177.1 659.6 L177.7 659.8 L178.3 660.0 L178.9 660.2 L179.5 660.4"/>
<path stroke-width="2.80" d="M179.5 660.4 L180.1 660.6 L180.7 660.8 L181.3 661.0 L181.9 661.2 L182.5 661.3 L183.1 661.5 L183.8 661.7 L184.4 661.8"/>
<path stroke-width="2.80" d="M184.4 661.8 L185.0 662.0 L185.6 662.1 L186.2 662.2 L186.9 662.4 L187.5 662.5 L188.1 662.6 L188.8 662.7 L189.4 662.9"/>
<path stroke-width="2.80" d="M189.4 662.9 L190.0 663.0 L190.7 663.1 L191.3 663.2 L191.9 663.3 L192.6 663.3 L193.2 663.4 L193.8 663.5 L194.5 663.6"/>
<path stroke-width="2.69" d="M194.5 663.6 L195.1 663.6 L195.8 663.7 L196.4 663.7 L197.1 663.8 L197.7 663.8 L198.3 663.9 L199.0 663.9 L199.6 663.9"/>
<path stroke-width="2.45" d="M199.6 663.9 L200.3 664.0 L200.9 664.0 L201.6 664.0 L202.2 664.0 L202.9 664.0 L203.5 664.0 L204.2 664.0 L204.8 664.0"/>
<path stroke-width="2.22" d="M204.8 664.0 L205.5 664.0 L206.1 663.9 L206.8 663.9 L207.4 663.9 L208.0 663.9 L208.7 663.8 L209.3 663.8 L210.0 663.7"/>
<path stroke-width="1.99" d="M210.0 663.7 L210.6 663.7 L211.3 663.6 L211.9 663.5 L212.5 663.5 L213.2 663.4 L213.8 663.3 L214.4 663.2 L215.1 663.1"/>
<path stroke-width="1.75" d="M215.1 663.1 L215.7 663.0 L216.3 662.9 L217.0 662.8 L217.6 662.7 L218.2 662.6 L218.9 662.5 L219.5 662.3 L220.1 662.2"/>
<path stroke-width="1.52" d="M220.1 662.2 L220.7 662.1 L221.3 661.9 L222.0 661.8 L222.6 661.6 L223.2 661.5 L223.8 661.3 L224.4 661.2 L225.0 661.0"/>
<path stroke-width="1.24" d="M497.7 662.8 L498.3 663.0 L498.8 663.3 L499.4 663.5 L499.9 663.7 L500.5 664.0 L501.1 664.2 L501.6 664.4"/>
<path stroke-width="1.51" d="M501.6 664.4 L502.2 664.6 L502.8 664.8 L503.4 665.0 L503.9 665.2 L504.5 665.4 L505.1 665.6 L505.7 665.8 L506.2 666.0"/>
<path stroke-width="1.79" d="M506.2 666.0 L506.8 666.2 L507.4 666.3 L508.0 666.5 L508.6 666.7 L509.1 666.8 L509.7 667.0 L510.3 667.1 L510.9 667.3"/>
<path stroke-width="2.07" d="M510.9 667.3 L511.5 667.4 L512.1 667.5 L512.7 667.7 L513.3 667.8 L513.9 667.9 L514.5 668.0 L515.0 668.1 L515.6 668.3"/>
<path stroke-width="2.35" d="M515.6 668.3 L516.2 668.4 L516.8 668.5 L517.4 668.5 L518.0 668.6 L518.6 668.7 L519.2 668.8 L519.8 668.9 L520.4 669.0"/>
<path stroke-width="2.63" d="M520.4 669.0 L521.0 669.0 L521.6 669.1 L522.2 669.1 L522.8 669.2 L523.4 669.2 L524.0 669.3 L524.6 669.3 L525.2 669.4"/>
<path stroke-width="2.80" d="M525.2 669.4 L525.8 669.4 L526.4 669.4 L527.0 669.4 L527.6 669.5 L528.2 669.5 L528.8 669.5 L529.4 669.5 L530.0 669.5"/>
<path stroke-width="2.80" d="M530.0 669.5 L530.6 669.5 L531.2 669.5 L531.8 669.5 L532.4 669.5 L533.0 669.4 L533.6 669.4 L534.2 669.4 L534.8 669.3"/>
<path stroke-width="2.80" d="M534.8 669.3 L535.4 669.3 L536.0 669.3 L536.6 669.2 L537.2 669.2 L537.8 669.1 L538.4 669.0 L539.0 669.0 L539.6 668.9"/>
<path stroke-width="2.80" d="M539.6 668.9 L540.2 668.8 L540.8 668.7 L541.4 668.7 L542.0 668.6 L542.6 668.5 L543.1 668.4 L543.7 668.3 L544.3 668.2"/>
<path stroke-width="2.80" d="M544.3 668.2 L544.9 668.1 L545.5 668.0 L546.1 667.8 L546.7 667.7 L547.2 667.6 L547.8 667.4 L548.4 667.3 L549.0 667.2"/>
<path stroke-width="2.80" d="M549.0 667.2 L549.6 667.0 L550.1 666.9 L550.7 666.7 L551.3 666.6 L551.9 666.4 L552.4 666.2 L553.0 666.1 L553.6 665.9"/>
<path stroke-width="2.80" d="M553.6 665.9 L554.1 665.7 L554.7 665.5 L555.3 665.3 L555.8 665.1 L556.4 664.9 L556.9 664.7 L557.5 664.5 L558.0 664.3"/>
<path stroke-width="2.80" d="M558.0 664.3 L558.6 664.1 L559.1 663.9 L559.7 663.7 L560.2 663.4 L560.8 663.2 L561.3 663.0 L561.9 662.7 L562.4 662.5"/>
<path stroke-width="2.80" d="M562.4 662.5 L562.9 662.2 L563.5 662.0 L564.0 661.7 L564.5 661.5 L565.1 661.2 L565.6 660.9 L566.1 660.7 L566.6 660.4"/>
<path stroke-width="2.80" d="M566.6 660.4 L567.2 660.1 L567.7 659.8 L568.2 659.5 L568.7 659.2 L569.2 658.9 L569.7 658.6 L570.2 658.3 L570.7 658.0"/>
<path stroke-width="2.80" d="M570.7 658.0 L571.2 657.7 L571.7 657.4 L572.2 657.0 L572.7 656.7 L573.2 656.4 L573.7 656.0 L574.2 655.7 L574.6 655.3"/>
<path stroke-width="2.80" d="M574.6 655.3 L575.1 655.0 L575.6 654.6 L576.1 654.3 L576.5 653.9 L577.0 653.6 L577.4 653.2 L577.9 652.8 L578.4 652.4"/>
<path stroke-width="2.80" d="M578.4 652.4 L578.8 652.1 L579.3 651.7 L579.7 651.3 L580.2 650.9 L580.6 650.5 L581.1 650.1 L581.5 649.7 L581.9 649.3"/>
<path stroke-width="2.80" d="M581.9 649.3 L582.4 648.9 L582.8 648.5 L583.2 648.1 L583.6 647.6 L584.1 647.2 L584.5 646.8 L584.9 646.4 L585.3 645.9"/>
<path stroke-width="2.80" d="M585.3 645.9 L585.7 645.5 L586.1 645.1 L586.5 644.6 L586.9 644.2 L587.3 643.7 L587.7 643.3 L588.1 642.8 L588.5 642.4"/>
<path stroke-width="2.72" d="M588.5 642.4 L588.9 641.9 L589.3 641.4 L589.6 641.0 L590.0 640.5 L590.4 640.0 L590.8 639.6 L591.1 639.1 L591.5 638.6"/>
<path stroke-width="2.55" d="M591.5 638.6 L591.9 638.1 L592.2 637.6 L592.6 637.2 L592.9 636.7 L593.3 636.2 L593.6 635.7 L594.0 635.2 L594.3 634.7"/>
<path stroke-width="2.38" d="M594.3 634.7 L594.7 634.2 L595.0 633.7 L595.3 633.2 L595.6 632.7 L596.0 632.2 L596.3 631.6 L596.6 631.1 L596.9 630.6"/>
<path stroke-width="2.21" d="M596.9 630.6 L597.2 630.1 L597.6 629.6 L597.9 629.0 L598.2 628.5 L598.5 628.0 L598.8 627.5 L599.1 626.9 L599.3 626.4"/>
<path stroke-width="2.03" d="M599.3 626.4 L599.6 625.9 L599.9 625.3 L600.2 624.8 L600.5 624.3 L600.8 623.7 L601.0 623.2 L601.3 622.6 L601.6 622.1"/>
<path stroke-width="1.86" d="M601.6 622.1 L601.8 621.5 L602.1 621.0 L602.3 620.4 L602.6 619.9 L602.8 619.3 L603.1 618.8 L603.3 618.2 L603.6 617.7"/>
<path stroke-width="1.69" d="M603.6 617.7 L603.8 617.1 L604.0 616.5 L604.3 616.0 L604.5 615.4 L604.7 614.9 L604.9 614.3 L605.1 613.7 L605.4 613.2"/>
<path stroke-width="1.52" d="M605.4 613.2 L605.6 612.6 L605.8 612.0 L606.0 611.5 L606.2 610.9 L606.4 610.3 L606.6 609.7 L606.7 609.2 L606.9 608.6"/>
<path stroke-width="1.35" d="M606.9 608.6 L607.1 608.0 L607.3 607.5 L607.5 606.9 L607.6 606.3 L607.8 605.7 L608.0 605.1 L608.1 604.6 L608.3 604.0"/>
<path stroke-width="2.60" d="M156.0 650.0 L156.0 651.1 L156.0 652.2 L156.0 653.3 L156.0 654.4 L156.0 655.4 L156.1 656.5 L156.1 657.6"/>
<path stroke-width="2.60" d="M156.1 657.6 L156.1 658.7 L156.1 659.8 L156.1 660.9 L156.1 662.0 L156.1 663.1 L156.1 664.1 L156.1 665.2 L156.2 666.3"/>
<path stroke-width="2.60" d="M156.2 666.3 L156.2 667.4 L156.2 668.5 L156.2 669.6 L156.2 670.7 L156.2 671.8 L156.2 672.9 L156.2 673.9 L156.3 675.0"/>
<path stroke-width="2.60" d="M156.3 675.0 L156.3 676.1 L156.3 677.2 L156.3 678.3 L156.3 679.4 L156.3 680.5 L156.3 681.6 L156.4 682.6 L156.4 683.7"/>
<path stroke-width="2.60" d="M156.4 683.7 L156.4 684.8 L156.4 685.9 L156.4 687.0 L156.4 688.1 L156.4 689.2 L156.5 690.3 L156.5 691.4 L156.5 692.4"/>
<path stroke-width="2.60" d="M156.5 692.4 L156.5 693.5 L156.5 694.6 L156.5 695.7 L156.5 696.8 L156.6 697.9 L156.6 699.0 L156.6 700.1 L156.6 701.1"/>
<path stroke-width="2.60" d="M156.6 701.1 L156.6 702.2 L156.6 703.3 L156.7 704.4 L156.7 705.5 L156.7 706.6 L156.7 707.7 L156.7 708.8 L156.7 709.8"/>
<path stroke-width="2.60" d="M156.7 709.8 L156.8 710.9 L156.8 712.0 L156.8 713.1 L156.8 714.2 L156.8 715.3 L156.9 716.4 L156.9 717.5 L156.9 718.6"/>
<path stroke-width="2.60" d="M156.9 718.6 L156.9 719.6 L156.9 720.7 L157.0 721.8 L157.0 722.9 L157.0 724.0 L157.0 725.1 L157.0 726.2 L157.0 727.3"/>
<path stroke-width="2.60" d="M157.0 727.3 L157.1 728.3 L157.1 729.4 L157.1 730.5 L157.1 731.6 L157.2 732.7 L157.2 733.8 L157.2 734.9 L157.2 736.0"/>
<path stroke-width="2.60" d="M157.2 736.0 L157.2 737.1 L157.3 738.1 L157.3 739.2 L157.3 740.3 L157.3 741.4 L157.3 742.5 L157.4 743.6 L157.4 744.7"/>
<path stroke-width="2.60" d="M157.4 744.7 L157.4 745.8 L157.4 746.8 L157.5 747.9 L157.5 749.0 L157.5 750.1 L157.5 751.2 L157.5 752.3 L157.6 753.4"/>
<path stroke-width="2.60" d="M157.6 753.4 L157.6 754.5 L157.6 755.5 L157.6 756.6 L157.7 757.7 L157.7 758.8 L157.7 759.9 L157.7 761.0 L157.8 762.1"/>
<path stroke-width="2.60" d="M157.8 762.1 L157.8 763.2 L157.8 764.2 L157.8 765.3 L157.9 766.4 L157.9 767.5 L157.9 768.6 L157.9 769.7 L158.0 770.8"/>
<path stroke-width="2.60" d="M158.0 770.8 L158.0 771.9 L158.0 773.0 L158.0 774.0 L158.1 775.1 L158.1 776.2 L158.1 777.3 L158.2 778.4 L158.2 779.5"/>
<path stroke-width="2.55" d="M158.2 779.5 L158.2 780.6 L158.2 781.7 L158.3 782.7 L158.3 783.8 L158.3 784.9 L158.3 786.0 L158.4 787.1 L158.4 788.2"/>
<path stroke-width="2.45" d="M158.4 788.2 L158.4 789.3 L158.5 790.4 L158.5 791.4 L158.5 792.5 L158.5 793.6 L158.6 794.7 L158.6 795.8 L158.6 796.9"/>
<path stroke-width="2.35" d="M158.6 796.9 L158.7 798.0 L158.7 799.1 L158.7 800.1 L158.8 801.2 L158.8 802.3 L158.8 803.4 L158.8 804.5 L158.9 805.6"/>
<path stroke-width="2.24" d="M158.9 805.6 L158.9 806.7 L158.9 807.8 L159.0 808.9 L159.0 809.9 L159.0 811.0 L159.1 812.1 L159.1 813.2 L159.1 814.3"/>
<path stroke-width="2.14" d="M159.1 814.3 L159.2 815.4 L159.2 816.5 L159.2 817.6 L159.3 818.6 L159.3 819.7 L159.3 820.8 L159.4 821.9 L159.4 823.0"/>
<path stroke-width="2.03" d="M159.4 823.0 L159.4 824.1 L159.5 825.2 L159.5 826.3 L159.5 827.3 L159.6 828.4 L159.6 829.5 L159.6 830.6 L159.7 831.7"/>
<path stroke-width="1.93" d="M159.7 831.7 L159.7 832.8 L159.7 833.9 L159.8 835.0 L159.8 836.0 L159.8 837.1 L159.9 838.2 L159.9 839.3 L159.9 840.4"/>
<path stroke-width="1.82" d="M159.9 840.4 L160.0 841.5 L160.0 842.6 L160.0 843.7 L160.1 844.7 L160.1 845.8 L160.1 846.9 L160.2 848.0 L160.2 849.1"/>
<path stroke-width="1.72" d="M160.2 849.1 L160.3 850.2 L160.3 851.3 L160.3 852.4 L160.4 853.4 L160.4 854.5 L160.4 855.6 L160.5 856.7 L160.5 857.8"/>
<path stroke-width="1.61" d="M160.5 857.8 L160.6 858.9 L160.6 860.0 L160.6 861.1 L160.7 862.1 L160.7 863.2 L160.7 864.3 L160.8 865.4 L160.8 866.5"/>
<path stroke-width="1.51" d="M160.8 866.5 L160.9 867.6 L160.9 868.7 L160.9 869.8 L161.0 870.8 L161.0 871.9 L161.1 873.0 L161.1 874.1 L161.1 875.2"/>
<path stroke-width="1.41" d="M161.1 875.2 L161.2 876.3 L161.2 877.4 L161.3 878.5 L161.3 879.5 L161.3 880.6 L161.4 881.7 L161.4 882.8 L161.5 883.9"/>
<path stroke-width="1.30" d="M161.5 883.9 L161.5 885.0 L161.5 886.1 L161.6 887.2 L161.6 888.3 L161.7 889.3 L161.7 890.4 L161.8 891.5 L161.8 892.6"/>
<path stroke-width="1.20" d="M161.8 892.6 L161.8 893.7 L161.9 894.8 L161.9 895.9 L162.0 897.0 L162.0 898.0 L162.1 899.1 L162.1 900.2 L162.1 901.3"/>
<path stroke-width="1.09" d="M162.1 901.3 L162.2 902.4 L162.2 903.5 L162.3 904.6 L162.3 905.7 L162.4 906.7 L162.4 907.8 L162.5 908.9 L162.5 910.0"/>
<path stroke-width="2.60" d="M162.5 655.0 L162.6 656.0 L162.8 657.1 L162.9 658.1 L163.0 659.1 L163.2 660.2 L163.3 661.2 L163.5 662.3"/>
<path stroke-width="2.60" d="M163.5 662.3 L163.6 663.3 L163.8 664.3 L163.9 665.4 L164.1 666.4 L164.3 667.5 L164.4 668.5 L164.6 669.6 L164.8 670.6"/>
<path stroke-width="2.60" d="M164.8 670.6 L164.9 671.7 L165.1 672.7 L165.3 673.8 L165.4 674.8 L165.6 675.9 L165.8 677.0 L166.0 678.0 L166.2 679.1"/>
<path stroke-width="2.60" d="M166.2 679.1 L166.4 680.1 L166.5 681.2 L166.7 682.2 L166.9 683.3 L167.1 684.4 L167.3 685.4 L167.5 686.5 L167.7 687.6"/>
<path stroke-width="2.60" d="M167.7 687.6 L167.9 688.6 L168.1 689.7 L168.3 690.8 L168.5 691.8 L168.7 692.9 L168.9 694.0 L169.1 695.0 L169.3 696.1"/>
<path stroke-width="2.60" d="M169.3 696.1 L169.5 697.2 L169.7 698.3 L169.9 699.3 L170.2 700.4 L170.4 701.5 L170.6 702.6 L170.8 703.6 L171.0 704.7"/>
<path stroke-width="2.60" d="M171.0 704.7 L171.2 705.8 L171.4 706.9 L171.6 708.0 L171.9 709.0 L172.1 710.1 L172.3 711.2 L172.5 712.3 L172.7 713.4"/>
<path stroke-width="2.60" d="M172.7 713.4 L172.9 714.5 L173.2 715.5 L173.4 716.6 L173.6 717.7 L173.8 718.8 L174.0 719.9 L174.2 721.0 L174.5 722.1"/>
<path stroke-width="2.60" d="M174.5 722.1 L174.7 723.1 L174.9 724.2 L175.1 725.3 L175.3 726.4 L175.5 727.5 L175.7 728.6 L176.0 729.7 L176.2 730.8"/>
<path stroke-width="2.60" d="M176.2 730.8 L176.4 731.9 L176.6 733.0 L176.8 734.0 L177.0 735.1 L177.2 736.2 L177.4 737.3 L177.6 738.4 L177.8 739.5"/>
<path stroke-width="2.60" d="M177.8 739.5 L178.0 740.6 L178.3 741.7 L178.5 742.8 L178.7 743.9 L178.9 745.0 L179.1 746.1 L179.3 747.2 L179.4 748.3"/>
<path stroke-width="2.60" d="M179.4 748.3 L179.6 749.4 L179.8 750.5 L180.0 751.6 L180.2 752.7 L180.4 753.8 L180.6 754.9 L180.8 756.0 L181.0 757.0"/>
<path stroke-width="2.60" d="M181.0 757.0 L181.1 758.1 L181.3 759.2 L181.5 760.3 L181.7 761.4 L181.8 762.5 L182.0 763.6 L182.2 764.7 L182.4 765.8"/>
<path stroke-width="2.60" d="M182.4 765.8 L182.5 766.9 L182.7 768.0 L182.8 769.1 L183.0 770.2 L183.2 771.3 L183.3 772.4 L183.5 773.5 L183.6 774.6"/>
<path stroke-width="2.60" d="M183.6 774.6 L183.7 775.7 L183.9 776.8 L184.0 777.9 L184.2 779.0 L184.3 780.1 L184.4 781.2 L184.6 782.3 L184.7 783.4"/>
<path stroke-width="2.60" d="M184.7 783.4 L184.8 784.5 L184.9 785.6 L185.0 786.7 L185.1 787.8 L185.3 788.9 L185.4 789.9 L185.5 791.0 L185.6 792.1"/>
<path stroke-width="2.60" d="M185.6 792.1 L185.7 793.2 L185.7 794.3 L185.8 795.4 L185.9 796.5 L186.0 797.6 L186.1 798.7 L186.1 799.8 L186.2 800.9"/>
<path stroke-width="2.60" d="M186.2 800.9 L186.3 802.0 L186.3 803.1 L186.4 804.2 L186.4 805.2 L186.5 806.3 L186.5 807.4 L186.6 808.5 L186.6 809.6"/>
<path stroke-width="2.60" d="M186.6 809.6 L186.6 810.7 L186.7 811.8 L186.7 812.9 L186.7 813.9 L186.7 815.0 L186.7 816.1 L186.7 817.2 L186.7 818.3"/>
<path stroke-width="2.60" d="M186.7 818.3 L186.7 819.4 L186.7 820.4 L186.7 821.5 L186.7 822.6 L186.7 823.7 L186.6 824.8 L186.6 825.9 L186.6 826.9"/>
<path stroke-width="2.60" d="M186.6 826.9 L186.5 828.0 L186.5 829.1 L186.4 830.2 L186.4 831.2 L186.3 832.3 L186.2 833.4 L186.2 834.5 L186.1 835.5"/>
<path stroke-width="2.52" d="M186.1 835.5 L186.0 836.6 L185.9 837.7 L185.8 838.7 L185.7 839.8 L185.6 840.9 L185.5 842.0 L185.3 843.0 L185.2 844.1"/>
<path stroke-width="2.35" d="M185.2 844.1 L185.1 845.2 L184.9 846.2 L184.8 847.3 L184.6 848.3 L184.5 849.4 L184.3 850.5 L184.2 851.5 L184.0 852.6"/>
<path stroke-width="2.17" d="M184.0 852.6 L183.8 853.6 L183.6 854.7 L183.4 855.8 L183.2 856.8 L183.0 857.9 L182.8 858.9 L182.6 860.0 L182.3 861.0"/>
<path stroke-width="2.00" d="M182.3 861.0 L182.1 862.1 L181.9 863.1 L181.6 864.2 L181.4 865.2 L181.1 866.3 L180.8 867.3 L180.6 868.4 L180.3 869.4"/>
<path stroke-width="1.82" d="M180.3 869.4 L180.0 870.4 L179.7 871.5 L179.4 872.5 L179.1 873.6 L178.7 874.6 L178.4 875.6 L178.1 876.7 L177.7 877.7"/>
<path stroke-width="1.65" d="M177.7 877.7 L177.4 878.7 L177.0 879.8 L176.7 880.8 L176.3 881.8 L175.9 882.8 L175.5 883.9 L175.1 884.9 L174.7 885.9"/>
<path stroke-width="1.48" d="M174.7 885.9 L174.3 886.9 L173.9 887.9 L173.5 889.0 L173.0 890.0 L172.6 891.0 L172.1 892.0 L171.7 893.0 L171.2 894.0"/>
<path stroke-width="1.30" d="M171.2 894.0 L170.7 895.0 L170.2 896.1 L169.7 897.1 L169.2 898.1 L168.7 899.1 L168.2 900.1 L167.7 901.1 L167.1 902.1"/>
<path stroke-width="1.13" d="M167.1 902.1 L166.6 903.1 L166.0 904.1 L165.5 905.1 L164.9 906.0 L164.3 907.0 L163.7 908.0 L163.1 909.0 L162.5 910.0"/>
<path stroke-width="2.60" d="M572.5 662.5 L572.5 663.1 L572.4 663.8 L572.4 664.4 L572.3 665.1 L572.3 665.7 L572.2 666.4 L572.2 667.0"/>
<path stroke-width="2.60" d="M572.2 667.0 L572.2 667.7 L572.1 668.3 L572.1 669.0 L572.0 669.6 L572.0 670.3 L571.9 670.9 L571.9 671.6 L571.8 672.2"/>
<path stroke-width="2.60" d="M571.8 672.2 L571.8 672.9 L571.8 673.5 L571.7 674.2 L571.7 674.8 L571.6 675.5 L571.6 676.1 L571.5 676.8 L571.5 677.4"/>
<path stroke-width="2.60" d="M571.5 677.4 L571.4 678.1 L571.4 678.7 L571.4 679.4 L571.3 680.0 L571.3 680.7 L571.2 681.3 L571.2 682.0 L571.1 682.6"/>
<path stroke-width="2.60" d="M571.1 682.6 L571.1 683.3 L571.0 683.9 L571.0 684.6 L571.0 685.2 L570.9 685.9 L570.9 686.5 L570.8 687.2 L570.8 687.8"/>
<path stroke-width="2.60" d="M570.8 687.8 L570.7 688.5 L570.7 689.1 L570.6 689.8 L570.6 690.4 L570.5 691.1 L570.5 691.7 L570.4 692.4 L570.4 693.0"/>
<path stroke-width="2.60" d="M570.4 693.0 L570.4 693.7 L570.3 694.3 L570.3 695.0 L570.2 695.6 L570.2 696.3 L570.1 696.9 L570.1 697.6 L570.0 698.2"/>
<path stroke-width="2.60" d="M570.0 698.2 L570.0 698.9 L569.9 699.5 L569.9 700.1 L569.8 700.8 L569.8 701.4 L569.7 702.1 L569.7 702.7 L569.6 703.4"/>
<path stroke-width="2.60" d="M569.6 703.4 L569.6 704.0 L569.5 704.7 L569.5 705.3 L569.4 706.0 L569.4 706.6 L569.4 707.3 L569.3 707.9 L569.3 708.6"/>
<path stroke-width="2.60" d="M569.3 708.6 L569.2 709.2 L569.2 709.9 L569.1 710.5 L569.1 711.2 L569.0 711.8 L569.0 712.5 L568.9 713.1 L568.9 713.8"/>
<path stroke-width="2.60" d="M568.9 713.8 L568.8 714.4 L568.8 715.1 L568.7 715.7 L568.7 716.4 L568.6 717.0 L568.6 717.7 L568.5 718.3 L568.5 719.0"/>
<path stroke-width="2.60" d="M568.5 719.0 L568.4 719.6 L568.4 720.3 L568.3 720.9 L568.3 721.6 L568.2 722.2 L568.2 722.9 L568.1 723.5 L568.1 724.2"/>
<path stroke-width="2.60" d="M568.1 724.2 L568.0 724.8 L568.0 725.5 L567.9 726.1 L567.9 726.7 L567.8 727.4 L567.8 728.0 L567.7 728.7 L567.7 729.3"/>
<path stroke-width="2.60" d="M567.7 729.3 L567.6 730.0 L567.6 730.6 L567.5 731.3 L567.5 731.9 L567.4 732.6 L567.4 733.2 L567.3 733.9 L567.3 734.5"/>
<path stroke-width="2.60" d="M567.3 734.5 L567.2 735.2 L567.2 735.8 L567.1 736.5 L567.0 737.1 L567.0 737.8 L566.9 738.4 L566.9 739.1 L566.8 739.7"/>
<path stroke-width="2.55" d="M566.8 739.7 L566.8 740.4 L566.7 741.0 L566.7 741.7 L566.6 742.3 L566.6 743.0 L566.5 743.6 L566.5 744.3 L566.4 744.9"/>
<path stroke-width="2.45" d="M566.4 744.9 L566.4 745.6 L566.3 746.2 L566.3 746.9 L566.2 747.5 L566.2 748.2 L566.1 748.8 L566.0 749.4 L566.0 750.1"/>
<path stroke-width="2.35" d="M566.0 750.1 L565.9 750.7 L565.9 751.4 L565.8 752.0 L565.8 752.7 L565.7 753.3 L565.7 754.0 L565.6 754.6 L565.6 755.3"/>
<path stroke-width="2.24" d="M565.6 755.3 L565.5 755.9 L565.5 756.6 L565.4 757.2 L565.3 757.9 L565.3 758.5 L565.2 759.2 L565.2 759.8 L565.1 760.5"/>
<path stroke-width="2.14" d="M565.1 760.5 L565.1 761.1 L565.0 761.8 L565.0 762.4 L564.9 763.1 L564.9 763.7 L564.8 764.4 L564.7 765.0 L564.7 765.7"/>
<path stroke-width="2.03" d="M564.7 765.7 L564.6 766.3 L564.6 767.0 L564.5 767.6 L564.5 768.3 L564.4 768.9 L564.4 769.5 L564.3 770.2 L564.2 770.8"/>
<path stroke-width="1.93" d="M564.2 770.8 L564.2 771.5 L564.1 772.1 L564.1 772.8 L564.0 773.4 L564.0 774.1 L563.9 774.7 L563.8 775.4 L563.8 776.0"/>
<path stroke-width="1.82" d="M563.8 776.0 L563.7 776.7 L563.7 777.3 L563.6 778.0 L563.6 778.6 L563.5 779.3 L563.4 779.9 L563.4 780.6 L563.3 781.2"/>
<path stroke-width="1.72" d="M563.3 781.2 L563.3 781.9 L563.2 782.5 L563.2 783.2 L563.1 783.8 L563.0 784.5 L563.0 785.1 L562.9 785.8 L562.9 786.4"/>
<path stroke-width="1.61" d="M562.9 786.4 L562.8 787.0 L562.8 787.7 L562.7 788.3 L562.6 789.0 L562.6 789.6 L562.5 790.3 L562.5 790.9 L562.4 791.6"/>
<path stroke-width="1.51" d="M562.4 791.6 L562.3 792.2 L562.3 792.9 L562.2 793.5 L562.2 794.2 L562.1 794.8 L562.1 795.5 L562.0 796.1 L561.9 796.8"/>
<path stroke-width="1.41" d="M561.9 796.8 L561.9 797.4 L561.8 798.1 L561.8 798.7 L561.7 799.4 L561.6 800.0 L561.6 800.7 L561.5 801.3 L561.5 802.0"/>
<path stroke-width="1.30" d="M561.5 802.0 L561.4 802.6 L561.3 803.2 L561.3 803.9 L561.2 804.5 L561.2 805.2 L561.1 805.8 L561.0 806.5 L561.0 807.1"/>
<path stroke-width="1.20" d="M561.0 807.1 L560.9 807.8 L560.9 808.4 L560.8 809.1 L560.7 809.7 L560.7 810.4 L560.6 811.0 L560.6 811.7 L560.5 812.3"/>
<path stroke-width="1.09" d="M560.5 812.3 L560.4 813.0 L560.4 813.6 L560.3 814.3 L560.2 814.9 L560.2 815.6 L560.1 816.2 L560.1 816.9 L560.0 817.5"/>
<path stroke-width="2.60" d="M572.5 660.0 L572.3 661.0 L572.1 662.1 L571.9 663.1 L571.6 664.1 L571.4 665.2 L571.2 666.2 L571.0 667.3"/>
<path stroke-width="2.60" d="M571.0 667.3 L570.7 668.3 L570.5 669.4 L570.2 670.4 L570.0 671.5 L569.8 672.5 L569.5 673.6 L569.3 674.6 L569.0 675.7"/>
<path stroke-width="2.60" d="M569.0 675.7 L568.8 676.8 L568.5 677.8 L568.3 678.9 L568.0 679.9 L567.7 681.0 L567.5 682.1 L567.2 683.1 L566.9 684.2"/>
<path stroke-width="2.60" d="M566.9 684.2 L566.7 685.3 L566.4 686.4 L566.1 687.4 L565.9 688.5 L565.6 689.6 L565.3 690.7 L565.0 691.7 L564.8 692.8"/>
<path stroke-width="2.60" d="M564.8 692.8 L564.5 693.9 L564.2 695.0 L563.9 696.1 L563.6 697.2 L563.4 698.2 L563.1 699.3 L562.8 700.4 L562.5 701.5"/>
<path stroke-width="2.60" d="M562.5 701.5 L562.2 702.6 L561.9 703.7 L561.6 704.8 L561.3 705.9 L561.1 707.0 L560.8 708.1 L560.5 709.2 L560.2 710.3"/>
<path stroke-width="2.60" d="M560.2 710.3 L559.9 711.4 L559.6 712.5 L559.3 713.6 L559.0 714.7 L558.7 715.8 L558.4 716.9 L558.1 718.0 L557.8 719.1"/>
<path stroke-width="2.60" d="M557.8 719.1 L557.6 720.2 L557.3 721.3 L557.0 722.4 L556.7 723.6 L556.4 724.7 L556.1 725.8 L555.8 726.9 L555.5 728.0"/>
<path stroke-width="2.60" d="M555.5 728.0 L555.2 729.1 L554.9 730.2 L554.6 731.4 L554.4 732.5 L554.1 733.6 L553.8 734.7 L553.5 735.8 L553.2 736.9"/>
<path stroke-width="2.60" d="M553.2 736.9 L552.9 738.1 L552.7 739.2 L552.4 740.3 L552.1 741.4 L551.8 742.6 L551.6 743.7 L551.3 744.8 L551.0 745.9"/>
<path stroke-width="2.60" d="M551.0 745.9 L550.7 747.0 L550.5 748.2 L550.2 749.3 L549.9 750.4 L549.7 751.6 L549.4 752.7 L549.1 753.8 L548.9 754.9"/>
<path stroke-width="2.60" d="M548.9 754.9 L548.6 756.1 L548.4 757.2 L548.1 758.3 L547.9 759.4 L547.6 760.6 L547.4 761.7 L547.1 762.8 L546.9 764.0"/>
<path stroke-width="2.60" d="M546.9 764.0 L546.7 765.1 L546.4 766.2 L546.2 767.4 L546.0 768.5 L545.7 769.6 L545.5 770.7 L545.3 771.9 L545.1 773.0"/>
<path stroke-width="2.60" d="M545.1 773.0 L544.8 774.1 L544.6 775.3 L544.4 776.4 L544.2 777.5 L544.0 778.7 L543.8 779.8 L543.6 780.9 L543.4 782.1"/>
<path stroke-width="2.60" d="M543.4 782.1 L543.2 783.2 L543.0 784.3 L542.9 785.4 L542.7 786.6 L542.5 787.7 L542.3 788.8 L542.2 790.0 L542.0 791.1"/>
<path stroke-width="2.60" d="M542.0 791.1 L541.8 792.2 L541.7 793.4 L541.5 794.5 L541.4 795.6 L541.2 796.7 L541.1 797.9 L540.9 799.0 L540.8 800.1"/>
<path stroke-width="2.60" d="M540.8 800.1 L540.7 801.2 L540.6 802.4 L540.4 803.5 L540.3 804.6 L540.2 805.8 L540.1 806.9 L540.0 808.0 L539.9 809.1"/>
<path stroke-width="2.60" d="M539.9 809.1 L539.8 810.2 L539.7 811.4 L539.7 812.5 L539.6 813.6 L539.5 814.7 L539.5 815.9 L539.4 817.0 L539.3 818.1"/>
<path stroke-width="2.60" d="M539.3 818.1 L539.3 819.2 L539.2 820.3 L539.2 821.4 L539.2 822.6 L539.1 823.7 L539.1 824.8 L539.1 825.9 L539.1 827.0"/>
<path stroke-width="2.60" d="M539.1 827.0 L539.1 828.1 L539.1 829.3 L539.1 830.4 L539.1 831.5 L539.1 832.6 L539.2 833.7 L539.2 834.8 L539.2 835.9"/>
<path stroke-width="2.60" d="M539.2 835.9 L539.3 837.0 L539.3 838.1 L539.4 839.2 L539.4 840.3 L539.5 841.4 L539.6 842.5 L539.7 843.6 L539.8 844.7"/>
<path stroke-width="2.52" d="M539.8 844.7 L539.8 845.8 L539.9 846.9 L540.1 848.0 L540.2 849.1 L540.3 850.2 L540.4 851.3 L540.6 852.4 L540.7 853.5"/>
<path stroke-width="2.35" d="M540.7 853.5 L540.9 854.6 L541.0 855.7 L541.2 856.7 L541.4 857.8 L541.5 858.9 L541.7 860.0 L541.9 861.1 L542.1 862.2"/>
<path stroke-width="2.17" d="M542.1 862.2 L542.3 863.2 L542.6 864.3 L542.8 865.4 L543.0 866.5 L543.3 867.5 L543.5 868.6 L543.8 869.7 L544.0 870.8"/>
<path stroke-width="2.00" d="M544.0 870.8 L544.3 871.8 L544.6 872.9 L544.9 873.9 L545.2 875.0 L545.5 876.1 L545.8 877.1 L546.1 878.2 L546.5 879.2"/>
<path stroke-width="1.82" d="M546.5 879.2 L546.8 880.3 L547.2 881.4 L547.5 882.4 L547.9 883.5 L548.3 884.5 L548.7 885.6 L549.0 886.6 L549.5 887.6"/>
<path stroke-width="1.65" d="M549.5 887.6 L549.9 888.7 L550.3 889.7 L550.7 890.8 L551.2 891.8 L551.6 892.8 L552.1 893.9 L552.5 894.9 L553.0 895.9"/>
<path stroke-width="1.48" d="M553.0 895.9 L553.5 897.0 L554.0 898.0 L554.5 899.0 L555.0 900.0 L555.6 901.0 L556.1 902.1 L556.6 903.1 L557.2 904.1"/>
<path stroke-width="1.30" d="M557.2 904.1 L557.8 905.1 L558.3 906.1 L558.9 907.1 L559.5 908.1 L560.1 909.1 L560.7 910.1 L561.4 911.1 L562.0 912.1"/>
<path stroke-width="1.13" d="M562.0 912.1 L562.7 913.1 L563.3 914.1 L564.0 915.1 L564.7 916.1 L565.4 917.1 L566.1 918.0 L566.8 919.0 L567.5 920.0"/>
</g>
<g fill="none" stroke="#8a8a8a" stroke-width="2" stroke-linecap="round" stroke-linejoin="round">
<path d="M314.5 149.5 L341.5 141 L349 146 L363 141 L381.5 149.5" />
<path d="M315 149.5 Q349 161.5 381.5 149.5" />
<path d="M329 156.5 Q351 175 370.5 157" />
</g>
<g fill="none" stroke="#555" stroke-width="1.3">
<path d="M391 319 H742.5"/>
<path d="M391 398.2 H742.5"/>
</g>
<g fill="none" stroke="#262626" stroke-width="4.5" stroke-linecap="round" stroke-linejoin="round">
<path d="M266.0 255.0 L266.2 255.9 L266.3 256.8 L266.5 257.6 L266.7 258.5 L266.9 259.4 L267.1 260.2 L267.4 261.1 L267.6 261.9 L267.8 262.8 L268.1 263.6 L268.3 264.5 L268.6 265.3 L268.9 266.1 L269.1 266.9 L269.4 267.8 L269.7 268.6 L270.0 269.4 L270.3 270.2 L270.7 271.0 L271.0 271.7 L271.3 272.5 L271.7 273.3 L272.0 274.1 L272.4 274.8 L272.7 275.6 L273.1 276.3 L273.5 277.1 L273.9 277.8 L274.3 278.5 L274.7 279.3 L275.1 280.0 L275.5 280.7 L276.0 281.4 L276.4 282.1 L276.8 282.8 L277.3 283.5 L277.7 284.2 L278.2 284.9 L278.7 285.5 L279.1 286.2 L279.6 286.9 L280.1 287.5 L280.6 288.2 L281.1 288.8 L281.6 289.4 L282.1 290.1 L282.6 290.7 L283.2 291.3 L283.7 291.9 L284.2 292.5 L284.8 293.1 L285.3 293.7 L285.9 294.3 L286.4 294.9 L287.0 295.5 L287.6 296.0 L288.2 296.6 L288.7 297.1 L289.3 297.7 L289.9 298.2 L290.5 298.8 L291.1 299.3 L291.8 299.8 L292.4 300.4 L293.0 300.9 L293.6 301.4 L294.3 301.9 L294.9 302.4 L295.5 302.8 L296.2 303.3 L296.8 303.8 L297.5 304.3 L298.2 304.7 L298.8 305.2 L299.5 305.6 L300.2 306.1 L300.9 306.5 L301.5 306.9 L302.2 307.3 L302.9 307.8 L303.6 308.2 L304.3 308.6 L305.0 309.0 L305.7 309.4 L306.4 309.7 L307.2 310.1 L307.9 310.5 L308.6 310.8 L309.3 311.2 L310.1 311.5 L310.8 311.9 L311.6 312.2 L312.3 312.5 L313.0 312.9 L313.8 313.2 L314.6 313.5 L315.3 313.8 L316.1 314.1 L316.8 314.4 L317.6 314.6 L318.4 314.9 L319.1 315.2 L319.9 315.5 L320.7 315.7 L321.5 316.0 L322.3 316.2 L323.0 316.4 L323.8 316.7 L324.6 316.9 L325.4 317.1 L326.2 317.3 L327.0 317.5 L327.8 317.7 L328.6 317.9 L329.4 318.1 L330.2 318.2 L331.0 318.4 L331.8 318.6 L332.7 318.7 L333.5 318.9 L334.3 319.0 L335.1 319.2 L335.9 319.3 L336.8 319.4 L337.6 319.5 L338.4 319.6 L339.2 319.7 L340.0 319.8 L340.9 319.9 L341.7 320.0 L342.5 320.1 L343.4 320.2 L344.2 320.2 L345.0 320.3 L345.9 320.3 L346.7 320.4 L347.5 320.4 L348.4 320.4 L349.2 320.5 L350.1 320.5 L350.9 320.5 L351.7 320.5 L352.6 320.5 L353.4 320.5 L354.2 320.5 L355.1 320.4 L355.9 320.4 L356.8 320.4 L357.6 320.3 L358.4 320.3 L359.3 320.2 L360.1 320.2 L361.0 320.1 L361.8 320.0 L362.6 319.9 L363.5 319.9 L364.3 319.8 L365.2 319.7 L366.0 319.6 L366.8 319.4 L367.7 319.3 L368.5 319.2 L369.3 319.1 L370.2 318.9 L371.0 318.8 L371.8 318.6 L372.6 318.5 L373.5 318.3 L374.3 318.2 L375.1 318.0 L375.9 317.8 L376.8 317.6 L377.6 317.4 L378.4 317.2 L379.2 317.0 L380.0 316.8 L380.9 316.6 L381.7 316.4 L382.5 316.1 L383.3 315.9 L384.1 315.7 L384.9 315.4 L385.7 315.2 L386.5 314.9 L387.3 314.6 L388.1 314.4 L388.9 314.1 L389.7 313.8 L390.5 313.5 L391.2 313.2 L392.0 312.9 L392.8 312.6 L393.6 312.3 L394.4 312.0 L395.1 311.6 L395.9 311.3 L396.7 311.0 L397.4 310.6 L398.2 310.3 L398.9 309.9 L399.7 309.6 L400.4 309.2 L401.2 308.8 L401.9 308.4 L402.7 308.1 L403.4 307.7 L404.1 307.3 L404.8 306.9 L405.6 306.5 L406.3 306.1 L407.0 305.6 L407.7 305.2 L408.4 304.8 L409.1 304.3 L409.8 303.9 L410.5 303.5 L411.2 303.0 L411.9 302.5 L412.6 302.1 L413.2 301.6 L413.9 301.1 L414.6 300.7 L415.2 300.2 L415.9 299.7 L416.6 299.2 L417.2 298.7 L417.9 298.2 L418.5 297.7 L419.1 297.1 L419.7 296.6 L420.4 296.1 L421.0 295.6 L421.6 295.0 L422.2 294.5 L422.8 293.9 L423.4 293.4 L424.0 292.8 L424.6 292.2 L425.2 291.7 L425.7 291.1 L426.3 290.5 L426.9 289.9 L427.4 289.3 L428.0 288.7 L428.5 288.1 L429.0 287.5 L429.6 286.9 L430.1 286.3 L430.6 285.6 L431.1 285.0 L431.6 284.4 L432.1 283.7 L432.6 283.1 L433.1 282.4 L433.6 281.8 L434.1 281.1 L434.5 280.5 L435.0 279.8 L435.4 279.1 L435.9 278.4 L436.3 277.7 L436.7 277.0 L437.2 276.3 L437.6 275.6 L438.0 274.9 L438.4 274.2 L438.8 273.5 L439.2 272.8 L439.5 272.1 L439.9 271.3 L440.3 270.6 L440.6 269.8 L441.0 269.1 L441.3 268.3 L441.6 267.6 L442.0 266.8 L442.3 266.1 L442.6 265.3 L442.9 264.5 L443.2 263.7 L443.4 262.9 L443.7 262.2 L444.0 261.4 L444.2 260.6 L444.5 259.8 L444.7 258.9 L445.0 258.1 L445.2 257.3 L445.4 256.5 L445.6 255.7 L445.8 254.8 L446.0 254.0 L446.1 253.1 L446.3 252.3 L446.5 251.4 L446.6 250.6 L446.7 249.7 L446.9 248.9 L447.0 248.0"/>
<path d="M259.5 262.0 L259.6 263.0 L259.7 264.0 L259.9 265.0 L260.0 266.1 L260.1 267.1 L260.3 268.1 L260.5 269.1 L260.7 270.1 L260.8 271.1 L261.0 272.1 L261.3 273.1 L261.5 274.1 L261.7 275.1 L262.0 276.1 L262.2 277.1 L262.5 278.1 L262.8 279.1 L263.0 280.1 L263.3 281.1 L263.7 282.0 L264.0 283.0 L264.3 284.0 L264.6 285.0 L265.0 286.0 L265.3 286.9 L265.7 287.9 L266.1 288.8 L266.5 289.8 L266.9 290.8 L267.3 291.7 L267.7 292.7 L268.1 293.6 L268.6 294.5 L269.0 295.5 L269.4 296.4 L269.9 297.3 L270.4 298.3 L270.9 299.2 L271.3 300.1 L271.8 301.0 L272.4 301.9 L272.9 302.8 L273.4 303.7 L273.9 304.6 L274.5 305.5 L275.0 306.4 L275.6 307.3 L276.1 308.2 L276.7 309.0 L277.3 309.9 L277.9 310.8 L278.5 311.6 L279.1 312.5 L279.7 313.3 L280.3 314.2 L280.9 315.0 L281.6 315.8 L282.2 316.6 L282.9 317.5 L283.5 318.3 L284.2 319.1 L284.8 319.9 L285.5 320.7 L286.2 321.5 L286.9 322.2 L287.6 323.0 L288.3 323.8 L289.0 324.5 L289.7 325.3 L290.5 326.0 L291.2 326.8 L291.9 327.5 L292.7 328.2 L293.4 329.0 L294.2 329.7 L295.0 330.4 L295.7 331.1 L296.5 331.8 L297.3 332.5 L298.1 333.1 L298.9 333.8 L299.7 334.5 L300.5 335.1 L301.3 335.8 L302.1 336.4 L302.9 337.0 L303.7 337.7 L304.6 338.3 L305.4 338.9 L306.2 339.5 L307.1 340.1 L307.9 340.7 L308.8 341.2 L309.7 341.8 L310.5 342.3 L311.4 342.9 L312.3 343.4 L313.1 344.0 L314.0 344.5 L314.9 345.0 L315.8 345.5 L316.7 346.0 L317.6 346.5 L318.5 346.9 L319.4 347.4 L320.3 347.9 L321.2 348.3 L322.2 348.7 L323.1 349.2 L324.0 349.6 L324.9 350.0 L325.9 350.4 L326.8 350.8 L327.8 351.2 L328.7 351.5 L329.6 351.9 L330.6 352.2 L331.6 352.6 L332.5 352.9 L333.5 353.2 L334.4 353.5 L335.4 353.8 L336.4 354.1 L337.3 354.3 L338.3 354.6 L339.3 354.8 L340.3 355.1 L341.2 355.3 L342.2 355.5 L343.2 355.7 L344.2 355.9 L345.2 356.1 L346.2 356.2 L347.1 356.4 L348.1 356.5 L349.1 356.7 L350.1 356.8 L351.1 356.9 L352.1 357.0 L353.1 357.1 L354.1 357.2 L355.1 357.2 L356.1 357.3 L357.1 357.3 L358.2 357.3 L359.2 357.3 L360.2 357.3 L361.2 357.3 L362.2 357.3 L363.2 357.2 L364.2 357.2 L365.2 357.1 L366.2 357.0 L367.2 356.9 L368.2 356.8 L369.3 356.7 L370.3 356.6 L371.3 356.4 L372.3 356.3 L373.3 356.1 L374.3 355.9 L375.3 355.8 L376.3 355.6 L377.3 355.3 L378.3 355.1 L379.3 354.9 L380.3 354.6 L381.3 354.4 L382.3 354.1 L383.3 353.8 L384.3 353.6 L385.2 353.3 L386.2 352.9 L387.2 352.6 L388.2 352.3 L389.2 351.9 L390.1 351.6 L391.1 351.2 L392.1 350.8 L393.0 350.5 L394.0 350.1 L394.9 349.7 L395.9 349.2 L396.8 348.8 L397.8 348.4 L398.7 347.9 L399.6 347.5 L400.6 347.0 L401.5 346.5 L402.4 346.0 L403.3 345.5 L404.2 345.0 L405.1 344.5 L406.0 344.0 L406.9 343.5 L407.8 342.9 L408.7 342.4 L409.6 341.8 L410.4 341.2 L411.3 340.7 L412.2 340.1 L413.0 339.5 L413.8 338.9 L414.7 338.2 L415.5 337.6 L416.3 337.0 L417.2 336.3 L418.0 335.7 L418.8 335.0 L419.6 334.4 L420.3 333.7 L421.1 333.0 L421.9 332.3 L422.7 331.6 L423.4 330.9 L424.2 330.2 L424.9 329.4 L425.6 328.7 L426.4 328.0 L427.1 327.2 L427.8 326.5 L428.5 325.7 L429.2 324.9 L429.8 324.1 L430.5 323.4 L431.2 322.6 L431.8 321.8 L432.4 320.9 L433.1 320.1 L433.7 319.3 L434.3 318.5 L434.9 317.6 L435.5 316.8 L436.1 315.9 L436.6 315.1 L437.2 314.2 L437.7 313.4 L438.3 312.5 L438.8 311.6 L439.3 310.7 L439.8 309.8 L440.3 308.9 L440.8 308.0 L441.3 307.1 L441.8 306.2 L442.2 305.3 L442.7 304.3 L443.1 303.4 L443.5 302.5 L443.9 301.5 L444.3 300.6 L444.7 299.6 L445.1 298.7 L445.5 297.7 L445.9 296.7 L446.2 295.8 L446.6 294.8 L446.9 293.8 L447.2 292.8 L447.6 291.9 L447.9 290.9 L448.2 289.9 L448.4 288.9 L448.7 287.9 L449.0 286.9 L449.2 285.9 L449.5 284.9 L449.7 283.9 L449.9 282.9 L450.2 281.9 L450.4 280.8 L450.6 279.8 L450.7 278.8 L450.9 277.8 L451.1 276.8 L451.2 275.7 L451.4 274.7 L451.5 273.7 L451.6 272.7 L451.8 271.6 L451.9 270.6 L451.9 269.6 L452.0 268.5 L452.1 267.5 L452.2 266.5 L452.2 265.4 L452.3 264.4 L452.3 263.4 L452.3 262.3 L452.3 261.3 L452.3 260.3 L452.3 259.2 L452.3 258.2 L452.3 257.2 L452.2 256.1 L452.2 255.1 L452.1 254.1 L452.1 253.0 L452.0 252.0"/>
<path d="M255.5 266.5 L255.7 267.7 L255.8 269.0 L256.0 270.2 L256.2 271.4 L256.4 272.6 L256.6 273.9 L256.8 275.1 L257.0 276.3 L257.2 277.5 L257.4 278.7 L257.6 279.9 L257.9 281.1 L258.1 282.3 L258.3 283.5 L258.6 284.7 L258.8 285.9 L259.1 287.1 L259.4 288.2 L259.6 289.4 L259.9 290.6 L260.2 291.8 L260.5 293.0 L260.8 294.1 L261.1 295.3 L261.4 296.4 L261.7 297.6 L262.1 298.8 L262.4 299.9 L262.7 301.1 L263.1 302.2 L263.5 303.4 L263.8 304.5 L264.2 305.7 L264.6 306.8 L265.0 307.9 L265.4 309.1 L265.8 310.2 L266.2 311.3 L266.7 312.5 L267.1 313.6 L267.5 314.7 L268.0 315.8 L268.5 316.9 L268.9 318.0 L269.4 319.2 L269.9 320.3 L270.4 321.4 L270.9 322.5 L271.5 323.6 L272.0 324.7 L272.6 325.8 L273.1 326.9 L273.7 327.9 L274.3 329.0 L274.8 330.1 L275.4 331.2 L276.1 332.3 L276.7 333.4 L277.3 334.4 L277.9 335.5 L278.6 336.6 L279.3 337.6 L279.9 338.7 L280.6 339.8 L281.3 340.8 L282.0 341.9 L282.7 342.9 L283.5 343.9 L284.2 345.0 L284.9 346.0 L285.7 347.0 L286.4 348.0 L287.2 349.0 L288.0 350.0 L288.8 351.0 L289.6 352.0 L290.4 353.0 L291.2 354.0 L292.0 355.0 L292.9 355.9 L293.7 356.9 L294.6 357.8 L295.4 358.8 L296.3 359.7 L297.2 360.6 L298.0 361.6 L298.9 362.5 L299.8 363.4 L300.7 364.2 L301.6 365.1 L302.6 366.0 L303.5 366.9 L304.4 367.7 L305.4 368.5 L306.3 369.4 L307.3 370.2 L308.2 371.0 L309.2 371.8 L310.2 372.6 L311.2 373.3 L312.2 374.1 L313.2 374.9 L314.2 375.6 L315.2 376.3 L316.2 377.0 L317.2 377.7 L318.3 378.4 L319.3 379.1 L320.3 379.8 L321.4 380.4 L322.4 381.0 L323.5 381.7 L324.5 382.3 L325.6 382.9 L326.7 383.4 L327.8 384.0 L328.8 384.5 L329.9 385.1 L331.0 385.6 L332.1 386.1 L333.2 386.6 L334.3 387.0 L335.4 387.5 L336.6 387.9 L337.7 388.3 L338.8 388.7 L339.9 389.1 L341.1 389.5 L342.2 389.9 L343.3 390.2 L344.5 390.5 L345.6 390.8 L346.8 391.1 L347.9 391.3 L349.1 391.6 L350.2 391.8 L351.4 392.0 L352.6 392.2 L353.7 392.4 L354.9 392.5 L356.1 392.6 L357.3 392.7 L358.4 392.8 L359.6 392.9 L360.8 392.9 L362.0 392.9 L363.2 392.9 L364.4 392.9 L365.6 392.9 L366.8 392.8 L367.9 392.7 L369.1 392.6 L370.3 392.5 L371.5 392.4 L372.7 392.2 L373.9 392.0 L375.1 391.8 L376.3 391.6 L377.5 391.4 L378.7 391.1 L379.9 390.8 L381.0 390.5 L382.2 390.2 L383.4 389.9 L384.6 389.5 L385.8 389.2 L386.9 388.8 L388.1 388.4 L389.2 388.0 L390.4 387.5 L391.6 387.1 L392.7 386.6 L393.8 386.1 L395.0 385.6 L396.1 385.1 L397.2 384.5 L398.3 384.0 L399.4 383.4 L400.5 382.8 L401.6 382.2 L402.7 381.6 L403.8 381.0 L404.9 380.3 L405.9 379.7 L407.0 379.0 L408.0 378.3 L409.1 377.6 L410.1 376.9 L411.1 376.1 L412.1 375.4 L413.1 374.6 L414.1 373.8 L415.1 373.1 L416.0 372.3 L417.0 371.4 L417.9 370.6 L418.8 369.8 L419.7 368.9 L420.6 368.0 L421.5 367.2 L422.4 366.3 L423.3 365.4 L424.1 364.5 L424.9 363.5 L425.7 362.6 L426.5 361.6 L427.3 360.7 L428.1 359.7 L428.9 358.7 L429.6 357.7 L430.3 356.7 L431.0 355.7 L431.7 354.7 L432.4 353.7 L433.0 352.6 L433.7 351.6 L434.3 350.5 L434.9 349.4 L435.5 348.3 L436.0 347.3 L436.6 346.2 L437.1 345.0 L437.6 343.9 L438.1 342.8 L438.6 341.7 L439.1 340.6 L439.6 339.4 L440.0 338.3 L440.5 337.1 L440.9 336.0 L441.4 334.8 L441.8 333.7 L442.2 332.5 L442.6 331.4 L443.0 330.2 L443.4 329.0 L443.8 327.9 L444.2 326.7 L444.6 325.5 L445.0 324.4 L445.4 323.2 L445.8 322.0 L446.2 320.9 L446.6 319.7 L447.0 318.5 L447.4 317.4 L447.8 316.2 L448.1 315.0 L448.5 313.9 L448.9 312.7 L449.3 311.5 L449.6 310.4 L450.0 309.2 L450.4 308.0 L450.7 306.9 L451.1 305.7 L451.4 304.5 L451.8 303.3 L452.1 302.2 L452.4 301.0 L452.7 299.8 L453.1 298.7 L453.4 297.5 L453.7 296.3 L454.0 295.1 L454.3 294.0 L454.5 292.8 L454.8 291.6 L455.1 290.4 L455.3 289.2 L455.6 288.0 L455.8 286.9 L456.1 285.7 L456.3 284.5 L456.5 283.3 L456.7 282.1 L456.9 280.9 L457.1 279.7 L457.2 278.5 L457.4 277.3 L457.5 276.1 L457.7 274.9 L457.8 273.7 L457.9 272.5 L458.0 271.3 L458.1 270.0 L458.2 268.8 L458.2 267.6 L458.3 266.4 L458.3 265.2 L458.4 263.9 L458.4 262.7 L458.4 261.5 L458.3 260.2 L458.3 259.0 L458.2 257.7 L458.2 256.5 L458.1 255.3 L458.0 254.0"/>
<path d="M250.5 270.5 L250.6 271.9 L250.8 273.3 L250.9 274.6 L251.0 276.0 L251.2 277.4 L251.3 278.8 L251.5 280.2 L251.6 281.6 L251.8 283.1 L251.9 284.5 L252.1 285.9 L252.3 287.3 L252.5 288.8 L252.6 290.2 L252.8 291.6 L253.0 293.1 L253.2 294.5 L253.4 296.0 L253.6 297.4 L253.8 298.9 L254.0 300.3 L254.3 301.8 L254.5 303.3 L254.7 304.7 L255.0 306.2 L255.2 307.7 L255.5 309.1 L255.7 310.6 L256.0 312.1 L256.3 313.6 L256.6 315.0 L256.8 316.5 L257.1 318.0 L257.4 319.4 L257.7 320.9 L258.1 322.4 L258.4 323.9 L258.7 325.3 L259.1 326.8 L259.4 328.3 L259.8 329.7 L260.1 331.2 L260.5 332.7 L260.9 334.1 L261.3 335.6 L261.7 337.0 L262.1 338.5 L262.5 339.9 L262.9 341.4 L263.4 342.8 L263.8 344.3 L264.2 345.7 L264.7 347.1 L265.2 348.5 L265.7 350.0 L266.2 351.4 L266.7 352.8 L267.2 354.2 L267.7 355.6 L268.2 357.0 L268.8 358.4 L269.3 359.8 L269.9 361.1 L270.5 362.5 L271.1 363.9 L271.7 365.2 L272.3 366.6 L272.9 367.9 L273.5 369.2 L274.2 370.6 L274.8 371.9 L275.5 373.2 L276.2 374.5 L276.9 375.8 L277.6 377.1 L278.3 378.4 L279.0 379.6 L279.8 380.9 L280.5 382.1 L281.3 383.4 L282.1 384.6 L282.9 385.8 L283.7 387.0 L284.5 388.2 L285.3 389.4 L286.2 390.6 L287.0 391.8 L287.9 392.9 L288.8 394.1 L289.7 395.2 L290.6 396.3 L291.6 397.4 L292.5 398.5 L293.5 399.6 L294.5 400.6 L295.4 401.7 L296.5 402.7 L297.5 403.8 L298.5 404.8 L299.6 405.8 L300.6 406.8 L301.7 407.7 L302.8 408.7 L303.9 409.6 L305.1 410.6 L306.2 411.5 L307.4 412.4 L308.6 413.2 L309.8 414.1 L311.0 415.0 L312.2 415.8 L313.4 416.6 L314.7 417.4 L315.9 418.2 L317.2 418.9 L318.5 419.7 L319.8 420.4 L321.1 421.1 L322.4 421.8 L323.7 422.5 L325.1 423.1 L326.4 423.8 L327.8 424.4 L329.1 425.0 L330.5 425.5 L331.9 426.1 L333.3 426.6 L334.7 427.1 L336.1 427.6 L337.5 428.1 L338.9 428.5 L340.3 428.9 L341.8 429.3 L343.2 429.7 L344.6 430.1 L346.1 430.4 L347.5 430.7 L348.9 431.0 L350.4 431.2 L351.8 431.5 L353.3 431.7 L354.8 431.9 L356.2 432.0 L357.7 432.1 L359.1 432.3 L360.6 432.3 L362.0 432.4 L363.5 432.4 L364.9 432.4 L366.4 432.4 L367.8 432.3 L369.3 432.3 L370.7 432.2 L372.2 432.0 L373.6 431.9 L375.1 431.7 L376.5 431.5 L377.9 431.2 L379.3 431.0 L380.7 430.7 L382.1 430.4 L383.5 430.0 L384.9 429.7 L386.3 429.3 L387.7 428.9 L389.0 428.4 L390.4 427.9 L391.7 427.5 L393.1 426.9 L394.4 426.4 L395.7 425.8 L397.0 425.2 L398.3 424.6 L399.5 423.9 L400.8 423.3 L402.1 422.6 L403.3 421.8 L404.5 421.1 L405.7 420.3 L406.9 419.5 L408.1 418.7 L409.3 417.9 L410.4 417.0 L411.5 416.1 L412.7 415.2 L413.8 414.3 L414.9 413.4 L416.0 412.4 L417.0 411.4 L418.1 410.4 L419.1 409.4 L420.2 408.3 L421.2 407.3 L422.2 406.2 L423.2 405.1 L424.1 404.0 L425.1 402.9 L426.0 401.7 L427.0 400.6 L427.9 399.4 L428.8 398.2 L429.7 397.0 L430.5 395.8 L431.4 394.6 L432.2 393.4 L433.1 392.1 L433.9 390.9 L434.7 389.6 L435.5 388.3 L436.2 387.0 L437.0 385.7 L437.7 384.4 L438.5 383.1 L439.2 381.8 L439.9 380.5 L440.6 379.1 L441.2 377.8 L441.9 376.4 L442.5 375.1 L443.1 373.7 L443.7 372.3 L444.3 371.0 L444.9 369.6 L445.5 368.2 L446.1 366.8 L446.6 365.4 L447.1 364.0 L447.6 362.6 L448.2 361.2 L448.6 359.8 L449.1 358.3 L449.6 356.9 L450.1 355.5 L450.5 354.1 L450.9 352.6 L451.4 351.2 L451.8 349.8 L452.2 348.3 L452.6 346.9 L452.9 345.5 L453.3 344.0 L453.7 342.6 L454.0 341.2 L454.4 339.7 L454.7 338.3 L455.0 336.8 L455.3 335.4 L455.7 334.0 L455.9 332.5 L456.2 331.1 L456.5 329.6 L456.8 328.2 L457.0 326.7 L457.3 325.3 L457.5 323.8 L457.8 322.4 L458.0 320.9 L458.2 319.5 L458.5 318.0 L458.7 316.6 L458.9 315.1 L459.1 313.7 L459.3 312.2 L459.4 310.8 L459.6 309.3 L459.8 307.8 L459.9 306.4 L460.1 304.9 L460.3 303.5 L460.4 302.0 L460.5 300.6 L460.7 299.1 L460.8 297.7 L460.9 296.2 L461.1 294.8 L461.2 293.3 L461.3 291.8 L461.4 290.4 L461.5 288.9 L461.6 287.5 L461.7 286.0 L461.8 284.6 L461.9 283.1 L462.0 281.7 L462.1 280.2 L462.1 278.8 L462.2 277.3 L462.3 275.9 L462.4 274.4 L462.4 273.0 L462.5 271.5 L462.6 270.1 L462.6 268.7 L462.7 267.2 L462.8 265.8 L462.8 264.3 L462.9 262.9 L462.9 261.4 L463.0 260.0"/>
<path d="M246.5 272.5 L246.5 274.3 L246.6 276.2 L246.6 278.0 L246.7 279.9 L246.7 281.7 L246.8 283.6 L246.8 285.4 L246.9 287.3 L247.0 289.1 L247.1 290.9 L247.2 292.8 L247.3 294.6 L247.4 296.5 L247.5 298.3 L247.6 300.1 L247.7 302.0 L247.8 303.8 L248.0 305.6 L248.1 307.5 L248.2 309.3 L248.4 311.1 L248.6 312.9 L248.7 314.8 L248.9 316.6 L249.1 318.4 L249.3 320.2 L249.5 322.1 L249.7 323.9 L249.9 325.7 L250.1 327.5 L250.3 329.3 L250.5 331.1 L250.8 333.0 L251.0 334.8 L251.3 336.6 L251.5 338.4 L251.8 340.2 L252.1 342.0 L252.4 343.8 L252.6 345.6 L252.9 347.4 L253.3 349.2 L253.6 351.0 L253.9 352.8 L254.2 354.7 L254.6 356.4 L254.9 358.2 L255.3 360.0 L255.6 361.8 L256.0 363.6 L256.4 365.4 L256.8 367.2 L257.2 369.0 L257.6 370.8 L258.0 372.6 L258.4 374.4 L258.9 376.2 L259.3 378.0 L259.8 379.7 L260.2 381.5 L260.7 383.3 L261.2 385.1 L261.7 386.9 L262.2 388.6 L262.7 390.4 L263.2 392.2 L263.7 394.0 L264.3 395.7 L264.8 397.5 L265.4 399.3 L266.0 401.1 L266.5 402.8 L267.1 404.6 L267.7 406.4 L268.3 408.1 L269.0 409.9 L269.6 411.6 L270.2 413.4 L270.9 415.2 L271.5 416.9 L272.2 418.7 L272.9 420.4 L273.6 422.2 L274.3 423.9 L275.0 425.6 L275.8 427.3 L276.5 429.1 L277.3 430.8 L278.1 432.5 L278.9 434.2 L279.7 435.8 L280.6 437.5 L281.4 439.2 L282.3 440.8 L283.2 442.5 L284.1 444.1 L285.0 445.7 L285.9 447.3 L286.9 448.9 L287.8 450.5 L288.8 452.0 L289.9 453.6 L290.9 455.1 L292.0 456.6 L293.0 458.1 L294.1 459.6 L295.3 461.0 L296.4 462.4 L297.6 463.8 L298.8 465.2 L300.0 466.6 L301.2 468.0 L302.5 469.3 L303.8 470.6 L305.1 471.9 L306.4 473.1 L307.8 474.3 L309.2 475.6 L310.6 476.7 L312.0 477.9 L313.5 479.0 L315.0 480.1 L316.5 481.2 L318.1 482.2 L319.7 483.2 L321.3 484.2 L322.9 485.1 L324.6 486.1 L326.3 487.0 L328.0 487.8 L329.8 488.6 L331.5 489.4 L333.3 490.1 L335.1 490.9 L336.9 491.5 L338.7 492.2 L340.6 492.7 L342.4 493.3 L344.2 493.8 L346.1 494.3 L348.0 494.7 L349.8 495.1 L351.7 495.4 L353.6 495.7 L355.4 495.9 L357.3 496.1 L359.1 496.3 L361.0 496.4 L362.8 496.4 L364.6 496.4 L366.4 496.4 L368.2 496.3 L370.0 496.1 L371.8 495.9 L373.6 495.6 L375.3 495.3 L377.0 495.0 L378.7 494.5 L380.4 494.1 L382.1 493.6 L383.8 493.1 L385.5 492.5 L387.1 491.8 L388.7 491.2 L390.3 490.4 L391.9 489.7 L393.5 488.9 L395.0 488.1 L396.6 487.2 L398.1 486.3 L399.6 485.3 L401.1 484.3 L402.6 483.3 L404.1 482.3 L405.5 481.2 L406.9 480.1 L408.3 478.9 L409.7 477.7 L411.1 476.5 L412.4 475.3 L413.8 474.0 L415.1 472.7 L416.4 471.4 L417.7 470.0 L418.9 468.7 L420.2 467.3 L421.4 465.8 L422.6 464.4 L423.8 462.9 L424.9 461.4 L426.1 459.9 L427.2 458.4 L428.3 456.9 L429.4 455.3 L430.4 453.7 L431.5 452.1 L432.5 450.5 L433.5 448.9 L434.5 447.2 L435.4 445.6 L436.4 443.9 L437.3 442.2 L438.2 440.6 L439.0 438.9 L439.9 437.2 L440.7 435.4 L441.5 433.7 L442.3 432.0 L443.1 430.3 L443.8 428.5 L444.5 426.8 L445.2 425.1 L445.9 423.3 L446.5 421.6 L447.1 419.8 L447.7 418.0 L448.3 416.3 L448.9 414.5 L449.5 412.7 L450.0 411.0 L450.5 409.2 L451.0 407.4 L451.5 405.6 L452.0 403.8 L452.4 402.0 L452.8 400.2 L453.3 398.4 L453.7 396.6 L454.1 394.8 L454.5 393.0 L454.8 391.2 L455.2 389.4 L455.5 387.6 L455.9 385.8 L456.2 384.0 L456.5 382.2 L456.8 380.4 L457.1 378.5 L457.4 376.7 L457.7 374.9 L458.0 373.1 L458.3 371.3 L458.5 369.4 L458.8 367.6 L459.1 365.8 L459.3 364.0 L459.6 362.1 L459.8 360.3 L460.0 358.5 L460.3 356.7 L460.5 354.9 L460.8 353.0 L461.0 351.2 L461.2 349.4 L461.5 347.6 L461.7 345.7 L461.9 343.9 L462.2 342.1 L462.4 340.3 L462.6 338.5 L462.8 336.6 L463.1 334.8 L463.3 333.0 L463.5 331.2 L463.7 329.4 L463.9 327.5 L464.2 325.7 L464.4 323.9 L464.6 322.1 L464.8 320.3 L465.0 318.4 L465.1 316.6 L465.3 314.8 L465.5 313.0 L465.7 311.2 L465.8 309.3 L466.0 307.5 L466.1 305.7 L466.3 303.9 L466.4 302.0 L466.5 300.2 L466.6 298.4 L466.7 296.5 L466.8 294.7 L466.9 292.9 L467.0 291.0 L467.1 289.2 L467.1 287.4 L467.2 285.5 L467.2 283.7 L467.2 281.8 L467.3 280.0 L467.3 278.1 L467.2 276.3 L467.2 274.4 L467.2 272.6 L467.1 270.7 L467.1 268.9 L467.0 267.0"/>
<path d="M240.0 277.0 L240.1 279.2 L240.2 281.4 L240.2 283.6 L240.3 285.8 L240.4 288.0 L240.5 290.2 L240.6 292.4 L240.7 294.6 L240.9 296.8 L241.0 299.0 L241.1 301.2 L241.2 303.4 L241.4 305.6 L241.5 307.8 L241.6 310.0 L241.8 312.2 L241.9 314.4 L242.1 316.6 L242.3 318.8 L242.4 321.0 L242.6 323.2 L242.8 325.4 L243.0 327.6 L243.2 329.8 L243.4 332.0 L243.6 334.2 L243.8 336.3 L244.0 338.5 L244.2 340.7 L244.4 342.9 L244.7 345.1 L244.9 347.3 L245.1 349.5 L245.4 351.6 L245.6 353.8 L245.9 356.0 L246.2 358.2 L246.4 360.4 L246.7 362.5 L247.0 364.7 L247.3 366.9 L247.5 369.1 L247.8 371.3 L248.1 373.4 L248.4 375.6 L248.7 377.8 L249.1 380.0 L249.4 382.1 L249.7 384.3 L250.0 386.5 L250.4 388.6 L250.7 390.8 L251.1 393.0 L251.4 395.2 L251.8 397.3 L252.2 399.5 L252.5 401.7 L252.9 403.8 L253.3 406.0 L253.7 408.2 L254.1 410.3 L254.5 412.5 L254.9 414.6 L255.3 416.8 L255.7 419.0 L256.2 421.1 L256.6 423.3 L257.1 425.4 L257.5 427.6 L258.0 429.7 L258.5 431.9 L259.0 434.0 L259.5 436.2 L260.0 438.3 L260.5 440.5 L261.1 442.6 L261.6 444.7 L262.2 446.8 L262.8 449.0 L263.4 451.1 L264.1 453.2 L264.7 455.3 L265.4 457.4 L266.1 459.5 L266.8 461.6 L267.5 463.7 L268.2 465.8 L269.0 467.8 L269.8 469.9 L270.6 472.0 L271.4 474.0 L272.3 476.1 L273.2 478.1 L274.1 480.2 L275.0 482.2 L276.0 484.2 L277.0 486.2 L278.0 488.2 L279.0 490.2 L280.1 492.2 L281.2 494.2 L282.3 496.2 L283.5 498.1 L284.7 500.1 L285.9 502.0 L287.2 504.0 L288.4 505.9 L289.8 507.8 L291.1 509.7 L292.5 511.6 L293.9 513.5 L295.3 515.3 L296.8 517.1 L298.2 518.9 L299.8 520.7 L301.3 522.4 L302.9 524.1 L304.4 525.8 L306.1 527.5 L307.7 529.1 L309.3 530.7 L311.0 532.3 L312.7 533.8 L314.4 535.3 L316.2 536.7 L318.0 538.1 L319.7 539.5 L321.5 540.8 L323.4 542.1 L325.2 543.3 L327.0 544.5 L328.9 545.6 L330.8 546.7 L332.7 547.7 L334.6 548.6 L336.6 549.5 L338.5 550.4 L340.5 551.2 L342.4 551.9 L344.4 552.6 L346.4 553.2 L348.4 553.7 L350.4 554.2 L352.5 554.5 L354.5 554.9 L356.5 555.1 L358.6 555.3 L360.7 555.4 L362.7 555.4 L364.8 555.4 L366.9 555.3 L369.0 555.1 L371.0 554.8 L373.1 554.4 L375.2 554.0 L377.3 553.5 L379.3 552.9 L381.4 552.3 L383.4 551.6 L385.4 550.9 L387.4 550.0 L389.4 549.1 L391.4 548.2 L393.3 547.2 L395.2 546.1 L397.1 545.0 L398.9 543.8 L400.7 542.6 L402.5 541.3 L404.2 540.0 L406.0 538.6 L407.6 537.2 L409.3 535.7 L410.9 534.2 L412.5 532.6 L414.0 531.0 L415.5 529.4 L417.0 527.7 L418.5 526.0 L419.9 524.2 L421.3 522.4 L422.7 520.6 L424.0 518.8 L425.3 516.9 L426.6 515.0 L427.8 513.0 L429.0 511.1 L430.2 509.1 L431.4 507.1 L432.6 505.1 L433.7 503.0 L434.8 501.0 L435.8 498.9 L436.8 496.8 L437.9 494.7 L438.8 492.6 L439.8 490.5 L440.7 488.4 L441.7 486.3 L442.5 484.2 L443.4 482.0 L444.3 479.9 L445.1 477.7 L445.9 475.6 L446.6 473.5 L447.4 471.3 L448.1 469.2 L448.8 467.1 L449.5 464.9 L450.2 462.8 L450.9 460.7 L451.5 458.5 L452.1 456.4 L452.7 454.2 L453.3 452.1 L453.9 450.0 L454.4 447.8 L455.0 445.7 L455.5 443.6 L456.0 441.4 L456.5 439.3 L456.9 437.1 L457.4 435.0 L457.8 432.8 L458.3 430.7 L458.7 428.6 L459.1 426.4 L459.5 424.3 L459.9 422.1 L460.3 420.0 L460.7 417.8 L461.0 415.7 L461.4 413.5 L461.7 411.4 L462.0 409.2 L462.4 407.0 L462.7 404.9 L463.0 402.7 L463.3 400.6 L463.6 398.4 L463.9 396.2 L464.2 394.1 L464.5 391.9 L464.8 389.7 L465.0 387.6 L465.3 385.4 L465.6 383.2 L465.9 381.1 L466.1 378.9 L466.4 376.7 L466.7 374.5 L466.9 372.3 L467.2 370.2 L467.4 368.0 L467.7 365.8 L468.0 363.6 L468.2 361.4 L468.4 359.2 L468.7 357.0 L468.9 354.8 L469.2 352.7 L469.4 350.5 L469.6 348.3 L469.8 346.1 L470.0 343.9 L470.2 341.7 L470.4 339.5 L470.6 337.3 L470.8 335.1 L471.0 332.9 L471.2 330.7 L471.3 328.5 L471.5 326.3 L471.6 324.1 L471.8 321.9 L471.9 319.7 L472.0 317.4 L472.1 315.2 L472.2 313.0 L472.3 310.8 L472.4 308.6 L472.5 306.4 L472.6 304.2 L472.6 302.0 L472.7 299.8 L472.7 297.6 L472.7 295.4 L472.7 293.2 L472.7 291.0 L472.7 288.8 L472.7 286.6 L472.6 284.4 L472.6 282.2 L472.5 280.0 L472.5 277.8 L472.4 275.6 L472.3 273.4 L472.1 271.2 L472.0 269.0"/>
<path d="M235.0 280.0 L235.1 283.2 L235.2 286.5 L235.3 289.7 L235.5 292.9 L235.6 296.2 L235.7 299.4 L235.9 302.6 L236.0 305.9 L236.1 309.1 L236.3 312.3 L236.4 315.6 L236.5 318.8 L236.7 322.0 L236.8 325.3 L237.0 328.5 L237.1 331.7 L237.3 335.0 L237.4 338.2 L237.6 341.4 L237.8 344.7 L237.9 347.9 L238.1 351.1 L238.3 354.4 L238.5 357.6 L238.6 360.8 L238.8 364.0 L239.0 367.3 L239.2 370.5 L239.4 373.7 L239.6 377.0 L239.8 380.2 L240.1 383.4 L240.3 386.7 L240.5 389.9 L240.8 393.1 L241.0 396.3 L241.2 399.6 L241.5 402.8 L241.8 406.0 L242.0 409.2 L242.3 412.5 L242.6 415.7 L242.9 418.9 L243.2 422.1 L243.5 425.3 L243.8 428.6 L244.1 431.8 L244.4 435.0 L244.7 438.2 L245.1 441.4 L245.4 444.6 L245.8 447.8 L246.2 451.0 L246.5 454.3 L246.9 457.5 L247.3 460.7 L247.7 463.9 L248.1 467.1 L248.5 470.3 L249.0 473.5 L249.4 476.7 L249.8 479.9 L250.3 483.1 L250.8 486.3 L251.2 489.5 L251.7 492.7 L252.2 495.8 L252.7 499.0 L253.2 502.2 L253.8 505.4 L254.3 508.6 L254.9 511.8 L255.4 514.9 L256.0 518.1 L256.6 521.3 L257.2 524.5 L257.8 527.6 L258.4 530.8 L259.0 534.0 L259.7 537.1 L260.3 540.3 L261.0 543.5 L261.7 546.6 L262.4 549.8 L263.1 552.9 L263.8 556.1 L264.5 559.2 L265.3 562.4 L266.0 565.5 L266.8 568.7 L267.6 571.8 L268.4 574.9 L269.2 578.1 L270.1 581.2 L270.9 584.3 L271.8 587.4 L272.6 590.6 L273.5 593.7 L274.4 596.8 L275.3 599.9 L276.3 603.0 L277.2 606.1 L278.2 609.3 L279.2 612.4 L280.2 615.5 L281.2 618.6 L282.2 621.6 L283.3 624.7 L284.3 627.8 L285.4 630.9 L286.5 634.0 L287.7 637.0 L288.9 640.0 L290.1 643.1 L291.3 646.1 L292.6 649.0 L294.0 652.0 L295.3 654.9 L296.8 657.8 L298.3 660.7 L299.8 663.5 L301.4 666.3 L303.0 669.1 L304.8 671.8 L306.6 674.4 L308.4 677.1 L310.3 679.7 L312.4 682.2 L314.4 684.7 L316.6 687.1 L318.9 689.5 L321.2 691.8 L323.6 694.0 L326.1 696.2 L328.7 698.3 L331.3 700.3 L334.0 702.2 L336.8 704.0 L339.7 705.7 L342.5 707.3 L345.5 708.7 L348.5 710.0 L351.5 711.2 L354.5 712.2 L357.6 713.0 L360.7 713.6 L363.9 714.1 L367.0 714.4 L370.2 714.5 L373.4 714.4 L376.5 714.1 L379.7 713.6 L382.8 712.9 L385.8 712.1 L388.8 711.1 L391.8 710.0 L394.7 708.7 L397.4 707.2 L400.1 705.7 L402.7 704.0 L405.2 702.2 L407.7 700.3 L410.0 698.3 L412.3 696.1 L414.5 693.9 L416.7 691.6 L418.7 689.1 L420.7 686.6 L422.7 684.1 L424.5 681.4 L426.3 678.7 L428.1 675.9 L429.7 673.0 L431.4 670.1 L432.9 667.2 L434.5 664.2 L435.9 661.2 L437.3 658.1 L438.7 655.0 L440.0 651.9 L441.3 648.8 L442.6 645.6 L443.8 642.5 L445.0 639.3 L446.1 636.2 L447.2 633.0 L448.3 629.9 L449.3 626.8 L450.3 623.6 L451.3 620.5 L452.3 617.4 L453.2 614.2 L454.1 611.1 L454.9 608.0 L455.8 604.9 L456.6 601.7 L457.4 598.6 L458.1 595.5 L458.9 592.4 L459.6 589.2 L460.3 586.1 L461.0 583.0 L461.6 579.9 L462.3 576.7 L462.9 573.6 L463.5 570.5 L464.0 567.4 L464.6 564.2 L465.2 561.1 L465.7 557.9 L466.2 554.8 L466.7 551.7 L467.2 548.5 L467.6 545.4 L468.1 542.2 L468.6 539.0 L469.0 535.9 L469.4 532.7 L469.8 529.5 L470.2 526.4 L470.6 523.2 L471.0 520.0 L471.4 516.8 L471.8 513.6 L472.1 510.4 L472.5 507.2 L472.8 504.0 L473.1 500.8 L473.4 497.6 L473.8 494.4 L474.1 491.2 L474.3 488.0 L474.6 484.8 L474.9 481.6 L475.2 478.3 L475.4 475.1 L475.6 471.9 L475.9 468.6 L476.1 465.4 L476.3 462.2 L476.5 458.9 L476.7 455.7 L476.9 452.5 L477.1 449.2 L477.3 446.0 L477.5 442.7 L477.6 439.5 L477.8 436.2 L477.9 433.0 L478.1 429.7 L478.2 426.5 L478.3 423.2 L478.4 420.0 L478.6 416.7 L478.7 413.5 L478.8 410.2 L478.8 407.0 L478.9 403.7 L479.0 400.5 L479.1 397.2 L479.1 393.9 L479.2 390.7 L479.3 387.4 L479.3 384.2 L479.3 380.9 L479.4 377.7 L479.4 374.4 L479.4 371.1 L479.5 367.9 L479.5 364.6 L479.5 361.4 L479.5 358.1 L479.5 354.9 L479.5 351.6 L479.5 348.4 L479.4 345.1 L479.4 341.9 L479.4 338.6 L479.4 335.4 L479.3 332.2 L479.3 328.9 L479.2 325.7 L479.2 322.4 L479.2 319.2 L479.1 316.0 L479.0 312.8 L479.0 309.5 L478.9 306.3 L478.8 303.1 L478.8 299.9 L478.7 296.6 L478.6 293.4 L478.5 290.2 L478.5 287.0 L478.4 283.8 L478.3 280.6 L478.2 277.4 L478.1 274.2 L478.0 271.0"/>
<path d="M229.0 285.5 L229.1 289.5 L229.1 293.5 L229.2 297.5 L229.3 301.5 L229.4 305.5 L229.5 309.5 L229.6 313.5 L229.7 317.4 L229.8 321.4 L229.9 325.4 L230.0 329.4 L230.1 333.4 L230.2 337.4 L230.4 341.4 L230.5 345.3 L230.7 349.3 L230.8 353.3 L231.0 357.3 L231.1 361.3 L231.3 365.2 L231.4 369.2 L231.6 373.2 L231.8 377.2 L232.0 381.2 L232.2 385.1 L232.4 389.1 L232.6 393.1 L232.8 397.0 L233.0 401.0 L233.2 405.0 L233.5 409.0 L233.7 412.9 L234.0 416.9 L234.2 420.9 L234.5 424.8 L234.7 428.8 L235.0 432.8 L235.3 436.7 L235.6 440.7 L235.9 444.6 L236.2 448.6 L236.5 452.6 L236.8 456.5 L237.1 460.5 L237.5 464.4 L237.8 468.4 L238.1 472.3 L238.5 476.3 L238.9 480.3 L239.2 484.2 L239.6 488.2 L240.0 492.1 L240.4 496.1 L240.8 500.0 L241.2 504.0 L241.6 507.9 L242.1 511.9 L242.5 515.8 L242.9 519.7 L243.4 523.7 L243.9 527.6 L244.3 531.6 L244.8 535.5 L245.3 539.5 L245.8 543.4 L246.3 547.3 L246.8 551.3 L247.3 555.2 L247.9 559.2 L248.4 563.1 L249.0 567.0 L249.5 571.0 L250.1 574.9 L250.7 578.8 L251.3 582.8 L251.9 586.7 L252.5 590.6 L253.1 594.6 L253.8 598.5 L254.4 602.4 L255.1 606.4 L255.7 610.3 L256.4 614.2 L257.1 618.2 L257.8 622.1 L258.5 626.0 L259.2 629.9 L259.9 633.9 L260.7 637.8 L261.4 641.7 L262.2 645.6 L263.0 649.5 L263.7 653.5 L264.5 657.4 L265.3 661.3 L266.1 665.2 L267.0 669.1 L267.8 673.1 L268.7 677.0 L269.5 680.9 L270.4 684.8 L271.3 688.7 L272.2 692.6 L273.1 696.5 L274.1 700.4 L275.0 704.3 L276.0 708.2 L277.1 712.1 L278.1 715.9 L279.2 719.8 L280.4 723.6 L281.5 727.4 L282.7 731.2 L284.0 735.0 L285.3 738.7 L286.7 742.5 L288.1 746.2 L289.5 749.8 L291.0 753.5 L292.6 757.1 L294.3 760.7 L296.0 764.3 L297.7 767.8 L299.6 771.3 L301.5 774.7 L303.5 778.1 L305.5 781.5 L307.7 784.8 L309.9 788.1 L312.2 791.4 L314.6 794.6 L317.1 797.8 L319.6 800.9 L322.3 803.9 L325.1 806.9 L327.9 809.9 L330.9 812.7 L333.9 815.4 L337.0 818.0 L340.2 820.4 L343.5 822.7 L346.8 824.7 L350.2 826.6 L353.7 828.2 L357.3 829.6 L360.9 830.7 L364.6 831.5 L368.4 832.0 L372.2 832.2 L376.0 832.1 L379.9 831.6 L383.8 830.8 L387.7 829.7 L391.4 828.3 L395.1 826.7 L398.7 824.7 L402.1 822.5 L405.4 820.1 L408.5 817.5 L411.5 814.7 L414.3 811.8 L417.0 808.7 L419.6 805.6 L422.0 802.3 L424.3 799.0 L426.4 795.6 L428.5 792.2 L430.4 788.7 L432.3 785.1 L434.1 781.6 L435.7 777.9 L437.3 774.3 L438.9 770.6 L440.4 766.9 L441.8 763.2 L443.2 759.4 L444.5 755.7 L445.9 751.9 L447.2 748.1 L448.4 744.4 L449.6 740.6 L450.8 736.8 L452.0 733.0 L453.1 729.2 L454.2 725.3 L455.3 721.5 L456.3 717.7 L457.3 713.8 L458.3 710.0 L459.3 706.1 L460.2 702.3 L461.1 698.4 L462.0 694.5 L462.8 690.6 L463.6 686.8 L464.4 682.9 L465.2 679.0 L466.0 675.1 L466.7 671.2 L467.4 667.2 L468.1 663.3 L468.7 659.4 L469.4 655.5 L470.0 651.5 L470.6 647.6 L471.2 643.7 L471.8 639.7 L472.3 635.8 L472.8 631.8 L473.4 627.9 L473.9 623.9 L474.3 620.0 L474.8 616.0 L475.3 612.1 L475.7 608.1 L476.1 604.1 L476.6 600.2 L477.0 596.2 L477.3 592.2 L477.7 588.3 L478.1 584.3 L478.5 580.3 L478.8 576.3 L479.1 572.4 L479.5 568.4 L479.8 564.4 L480.1 560.5 L480.4 556.5 L480.7 552.5 L481.0 548.5 L481.3 544.6 L481.5 540.6 L481.8 536.6 L482.0 532.6 L482.3 528.7 L482.5 524.7 L482.8 520.7 L483.0 516.7 L483.2 512.8 L483.4 508.8 L483.6 504.8 L483.8 500.8 L483.9 496.9 L484.1 492.9 L484.3 488.9 L484.4 484.9 L484.6 481.0 L484.7 477.0 L484.9 473.0 L485.0 469.0 L485.1 465.0 L485.2 461.1 L485.3 457.1 L485.4 453.1 L485.5 449.1 L485.6 445.2 L485.7 441.2 L485.8 437.2 L485.8 433.2 L485.9 429.2 L486.0 425.3 L486.0 421.3 L486.1 417.3 L486.1 413.3 L486.1 409.3 L486.2 405.4 L486.2 401.4 L486.2 397.4 L486.2 393.4 L486.2 389.4 L486.2 385.5 L486.2 381.5 L486.2 377.5 L486.2 373.5 L486.2 369.5 L486.1 365.6 L486.1 361.6 L486.1 357.6 L486.0 353.6 L486.0 349.6 L486.0 345.7 L485.9 341.7 L485.9 337.7 L485.8 333.7 L485.7 329.7 L485.7 325.8 L485.6 321.8 L485.5 317.8 L485.4 313.8 L485.4 309.8 L485.3 305.8 L485.2 301.9 L485.1 297.9 L485.0 293.9 L484.9 289.9 L484.8 285.9 L484.7 282.0 L484.6 278.0 L484.5 274.0"/>
</g>
</svg>
<div class="title">Chain Reference Guide</div>
<div class="lab" style="left:344.00px;top:325.50px">16<span class="q">"</span></div>
<div class="lab" style="left:347.20px;top:366.10px">17<span class="q">"</span></div>
<div class="lab" style="left:346.25px;top:399.50px">18<span class="q">"</span></div>
<div class="lab" style="left:349.10px;top:436.70px">20<span class="q">"</span></div>
<div class="lab" style="left:349.10px;top:501.70px">22<span class="q">"</span></div>
<div class="lab" style="left:349.50px;top:562.50px">24<span class="q">"</span></div>
<div class="lab" style="left:356.75px;top:719.25px">30<span class="q">"</span></div>
<div class="lab" style="left:359.75px;top:835.75px">36<span class="q">"</span></div>

<div class="info" style="left:810px;top:324px;transform:scaleX(1.035)">Chain Length</div>
<div class="info" style="left:751px;top:352px;transform:scaleX(1.023)">40CM+5CM Extended Chain</div>
<div class="info" style="left:769px;top:380px;transform:scaleX(1.088)">16&#8243;+ 2&#8243; xtended Chain</div>
</body></html>
